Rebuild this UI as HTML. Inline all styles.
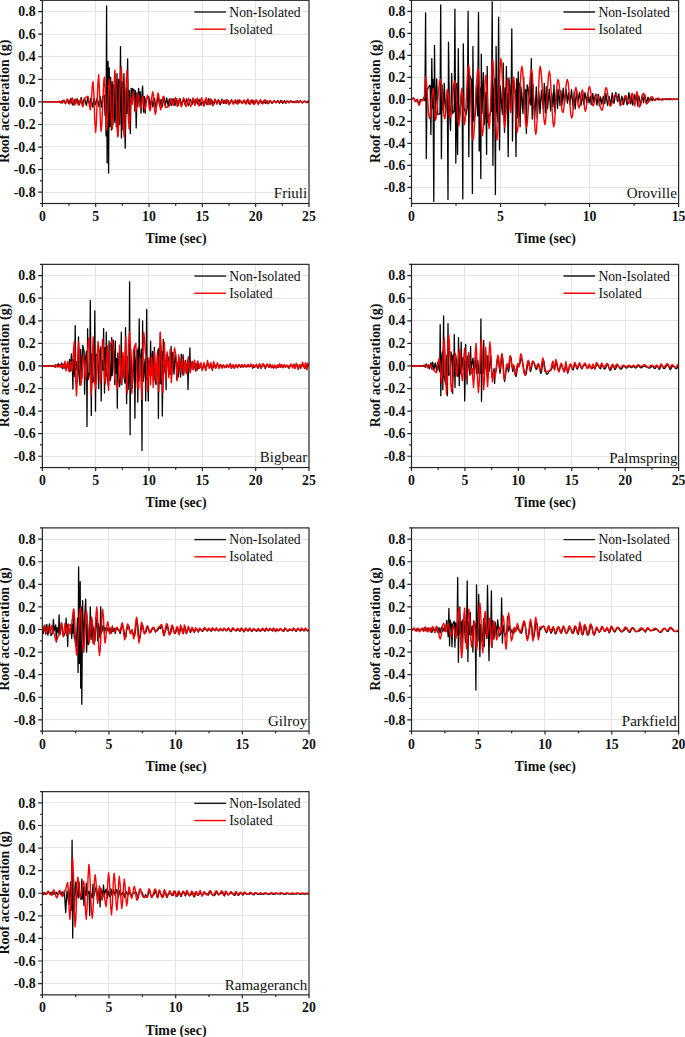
<!DOCTYPE html>
<html>
<head>
<meta charset="utf-8">
<title>Roof acceleration time histories</title>
<style>
html,body{margin:0;padding:0;background:#fff;}
body{width:685px;height:1037px;overflow:hidden;font-family:"Liberation Serif",serif;}
svg{display:block;}
text{font-family:"Liberation Serif",serif;fill:#111;}
.tl text{font-size:13.8px;font-weight:bold;}
.at{font-size:13.9px;font-weight:bold;}
.lg{font-size:13.7px;}
.nm{font-size:15px;}
</style>
</head>
<body>
<svg width="685" height="1037" viewBox="0 0 685 1037">
<rect x="0" y="0" width="685" height="1037" fill="#ffffff"/>

<g>
<path d="M95.5 0.3V203.5M148.5 0.3V203.5M202.5 0.3V203.5M255.5 0.3V203.5M42.35 192.5H309M42.35 169.5H309M42.35 146.5H309M42.35 124.5H309M42.35 101.5H309M42.35 79.5H309M42.35 56.5H309M42.35 34.5H309M42.35 11.5H309" stroke="#e4e4e4" stroke-width="1" fill="none"/>
<clipPath id="c00"><rect x="42.35" y="0.3" width="266.65" height="203.2"/></clipPath>
<path clip-path="url(#c00)" d="M42.4 101.9L43.0 101.9L43.7 101.9L44.4 101.9L45.2 101.9L46.0 101.9L46.6 101.9L47.3 101.9L48.1 101.9L49.0 101.9L49.6 101.9L50.2 101.9L50.8 101.9L51.4 101.9L52.3 101.9L53.2 101.9L53.9 101.9L54.6 101.9L55.3 101.9L56.1 102.0L57.0 102.1L57.6 101.9L58.3 101.6L59.1 102.0L59.9 102.4L60.5 101.8L61.2 101.1L61.8 102.1L62.3 103.0L63.1 101.6L63.9 100.1L64.7 101.9L65.5 103.8L66.3 101.8L67.1 99.7L67.9 101.7L68.7 103.7L69.4 102.4L70.1 99.9L70.7 98.6L71.4 100.2L72.0 103.4L72.7 105.0L73.4 102.3L74.1 99.6L74.8 101.8L75.5 103.9L76.4 101.5L77.3 99.0L78.0 100.5L78.6 103.4L79.3 104.9L80.0 103.0L80.6 99.4L81.3 97.6L82.4 104.6L83.1 103.0L83.8 99.9L84.4 98.3L85.1 100.1L85.8 103.6L86.5 105.4L87.1 101.5L87.7 97.6L88.6 101.4L89.6 105.2L90.2 101.8L90.8 98.3L91.4 100.5L92.1 104.8L92.8 107.0L93.4 102.7L94.0 98.4L94.6 101.6L95.3 104.8L95.9 103.2L96.5 100.1L97.1 98.5L98.0 102.4L98.8 106.3L99.4 101.4L100.1 96.4L100.7 101.8L101.3 107.2L102.0 102.3L102.6 97.4L103.4 96.3L104.2 95.1L105.1 115.4L105.7 90.6L106.0 135.8L106.6 5.9L107.1 162.9L107.5 90.6L108.1 61.3L108.6 173.0L109.2 68.0L109.9 126.7L110.6 77.1L111.4 130.1L112.2 81.6L113.0 124.5L113.8 85.0L114.7 122.2L115.5 79.3L116.3 126.7L117.0 73.7L117.9 135.8L118.7 79.3L119.6 124.5L120.5 46.6L121.4 138.0L122.2 81.6L123.1 130.1L123.9 73.7L124.6 110.9L125.2 148.2L126.3 88.4L126.9 113.2L127.6 59.0L128.5 122.2L129.4 90.6L130.3 133.5L131.2 88.4L131.9 99.6L132.6 88.4L133.2 98.5L133.9 89.5L134.7 110.9L135.5 90.6L136.2 127.9L137.1 92.9L137.8 106.4L138.6 88.4L139.4 101.9L140.2 91.7L141.0 113.2L141.8 96.3L142.6 86.1L143.5 112.1L144.3 96.3L145.2 113.2L146.0 98.5L146.7 98.2L147.4 97.6L148.2 97.0L148.9 96.7L149.4 101.9L150.0 107.1L150.8 102.6L151.5 98.0L152.2 102.4L152.8 106.8L153.7 102.6L154.5 98.4L155.2 103.2L156.0 108.0L156.7 105.2L157.3 99.7L158.0 96.9L158.9 101.7L159.8 106.4L160.4 102.8L161.1 99.3L161.6 103.1L162.2 107.0L163.1 102.0L164.0 96.9L164.6 101.4L165.1 105.8L165.9 101.9L166.7 98.0L167.4 102.1L168.2 106.2L168.7 102.5L169.3 98.8L170.3 102.2L171.2 105.6L172.1 102.1L173.0 98.6L173.6 100.4L174.3 103.9L174.9 105.6L175.6 102.2L176.3 98.7L177.0 100.4L177.7 103.8L178.3 105.5L179.1 102.0L179.8 98.5L180.5 100.1L181.1 103.2L181.8 104.8L182.7 102.1L183.5 99.4L184.4 102.1L185.2 104.8L185.8 101.9L186.4 98.9L187.1 100.5L187.8 103.8L188.5 105.4L189.4 102.4L190.3 99.5L191.2 102.1L192.1 104.7L192.9 101.6L193.6 98.6L194.2 101.8L194.8 105.0L195.4 102.1L196.0 99.1L196.8 101.5L197.6 104.0L198.5 101.6L199.4 99.3L200.2 102.3L201.1 105.3L201.8 102.8L202.4 100.3L203.1 102.5L203.9 104.8L204.5 102.4L205.2 100.0L205.8 101.2L206.5 103.5L207.2 104.7L207.9 101.7L208.7 98.7L209.4 101.7L210.1 104.7L210.8 102.1L211.4 99.6L212.1 100.9L212.7 103.7L213.3 105.1L214.0 103.8L214.6 101.1L215.3 99.7L216.1 101.8L217.0 103.9L217.6 101.8L218.2 99.7L218.9 100.9L219.5 103.4L220.2 104.7L221.1 101.9L222.0 99.1L222.7 101.3L223.3 103.4L224.1 101.8L224.9 100.2L225.6 102.0L226.2 103.7L227.1 101.9L227.9 100.0L228.7 102.1L229.4 104.2L230.1 103.2L230.7 101.2L231.4 100.2L232.0 101.6L232.6 103.0L233.3 102.5L233.9 101.4L234.6 100.8L235.5 102.2L236.4 103.6L237.1 101.8L237.8 99.9L238.4 101.5L238.9 103.0L239.7 102.0L240.5 100.9L241.1 101.5L241.8 102.6L242.4 103.1L243.0 102.0L243.7 100.9L244.5 102.1L245.4 103.3L246.2 101.8L247.1 100.2L247.7 101.1L248.4 103.0L249.0 103.9L249.9 102.3L250.8 100.8L251.6 101.9L252.4 103.0L252.9 101.7L253.5 100.5L254.4 101.7L255.3 103.0L256.0 101.8L256.7 100.7L257.6 102.0L258.5 103.3L259.3 101.8L260.2 100.3L260.9 101.9L261.7 103.5L262.3 102.9L263.0 101.6L263.7 101.0L264.3 101.6L265.0 102.8L265.7 103.4L266.3 102.0L266.9 100.7L267.8 102.1L268.6 103.5L269.4 102.1L270.1 100.6L270.8 101.3L271.4 102.7L272.1 103.4L272.8 102.7L273.4 101.4L274.1 100.8L275.0 101.8L275.9 102.8L276.8 101.6L277.7 100.5L278.5 101.8L279.4 103.2L280.1 101.8L280.7 100.5L281.4 101.2L282.1 102.6L282.8 103.4L283.6 102.0L284.4 100.6L285.1 101.9L285.9 103.3L286.5 102.7L287.2 101.6L287.8 101.0L288.4 101.9L289.0 102.9L289.8 101.8L290.6 100.7L291.4 101.6L292.2 102.5L292.9 102.2L293.5 101.6L294.1 101.3L294.8 101.6L295.4 102.3L296.0 102.6L296.7 101.7L297.5 100.8L298.1 101.7L298.7 102.6L299.5 101.7L300.3 100.8L301.0 101.4L301.6 102.4L302.3 102.9L302.9 102.4L303.6 101.5L304.3 101.0L305.0 101.4L305.6 102.1L306.3 102.5L307.0 101.8L307.6 101.1L308.3 101.3L309.0 101.6" stroke="#050505" stroke-width="1.3" fill="none" stroke-linejoin="round"/>
<path clip-path="url(#c00)" d="M42.4 101.9L43.1 101.9L43.9 101.9L44.7 101.9L45.6 101.9L46.5 101.9L47.2 101.9L47.9 101.9L48.6 101.9L49.4 101.9L50.2 101.9L51.0 101.9L51.8 101.9L52.5 101.9L53.3 101.9L53.9 101.9L54.6 101.9L55.2 101.9L55.8 102.0L56.5 102.1L57.1 102.1L58.1 101.7L59.0 101.2L59.9 102.1L60.8 103.0L61.5 102.4L62.2 101.1L62.9 100.5L63.8 101.2L64.6 102.7L65.5 103.4L66.4 101.2L67.3 98.9L68.1 100.2L68.8 102.7L69.6 104.0L70.2 103.1L70.9 101.0L71.6 98.8L72.3 97.9L72.9 99.7L73.5 103.4L74.1 105.2L74.8 103.6L75.4 100.3L76.1 98.7L76.8 100.2L77.6 103.4L78.4 104.9L79.2 103.5L80.0 100.5L80.8 99.0L81.5 100.9L82.1 104.8L82.8 106.7L83.5 104.5L84.2 100.1L84.9 97.9L85.7 97.6L86.5 97.1L87.2 96.5L88.0 96.3L88.8 99.6L89.6 106.4L90.3 109.8L91.0 105.7L91.7 95.7L92.3 85.7L93.0 81.6L93.9 94.3L94.7 119.7L95.6 132.4L96.3 123.9L97.1 103.6L97.9 83.2L98.7 74.8L99.4 88.9L100.2 117.1L101.0 131.3L101.7 126.1L102.4 112.5L103.1 95.8L103.7 82.2L104.4 77.1L105.2 90.3L106.0 116.9L106.8 130.1L107.6 117.4L108.4 92.0L109.2 79.3L110.0 86.6L110.8 104.2L111.5 121.7L112.3 129.0L113.2 114.3L114.0 85.0L114.9 70.3L115.6 80.0L116.3 103.6L117.0 127.1L117.8 136.9L118.4 130.2L119.1 112.7L119.8 91.1L120.5 73.6L121.2 66.9L121.9 77.2L122.6 101.9L123.3 126.6L124.1 136.9L124.8 127.1L125.5 103.6L126.3 80.0L127.0 70.3L127.7 85.0L128.4 114.3L129.1 129.0L129.8 121.1L130.5 105.3L131.2 97.4L132.2 104.2L133.2 91.7L134.0 96.8L134.8 107.0L135.6 112.1L136.4 107.5L137.2 98.5L138.0 94.0L138.8 97.7L139.7 105.0L140.5 108.7L141.3 105.6L142.0 99.4L142.8 96.3L143.5 99.6L144.2 106.4L145.0 109.8L145.8 106.1L146.6 98.8L147.4 95.1L148.1 97.4L148.7 103.0L149.4 108.6L150.1 110.9L150.7 108.1L151.4 101.3L152.1 94.6L152.7 91.7L153.4 95.0L154.1 103.0L154.7 111.0L155.4 114.3L156.1 111.2L156.7 103.6L157.4 96.0L158.1 92.9L158.7 95.3L159.4 101.3L160.1 107.3L160.7 109.8L161.6 106.4L162.4 99.6L163.2 96.3L164.0 99.1L164.8 104.7L165.5 107.5L166.4 107.4L167.2 107.0L168.1 106.6L168.9 106.5L169.7 104.5L170.4 100.6L171.2 98.6L171.9 100.3L172.5 103.6L173.2 105.3L173.9 103.3L174.7 99.5L175.5 97.6L176.4 102.1L177.3 106.6L178.0 104.6L178.7 100.6L179.3 98.6L180.0 100.7L180.7 104.7L181.4 106.8L182.1 104.5L182.9 100.1L183.6 97.8L184.4 100.0L185.3 104.5L186.1 106.7L186.9 104.6L187.7 100.4L188.5 98.3L189.2 100.4L189.9 104.5L190.7 106.5L191.5 104.4L192.2 100.1L193.0 98.0L193.7 99.8L194.4 103.5L195.0 105.3L195.8 103.5L196.6 99.9L197.4 98.1L198.2 102.0L199.1 106.0L199.9 103.9L200.8 99.7L201.6 97.7L202.4 99.8L203.2 104.2L204.0 106.3L204.8 104.2L205.5 99.9L206.2 97.7L206.9 99.5L207.6 102.9L208.2 104.6L208.9 103.2L209.6 100.2L210.3 98.8L211.1 100.5L211.9 104.0L212.8 105.8L213.5 104.1L214.2 100.6L214.9 98.9L215.8 101.5L216.7 104.1L217.5 103.2L218.3 101.3L219.0 100.4L219.7 101.2L220.3 102.6L221.0 103.4L221.6 102.6L222.3 101.0L222.9 100.2L223.9 101.7L224.8 103.3L225.4 102.3L226.1 100.4L226.7 99.5L227.5 100.8L228.3 103.4L229.1 104.8L229.9 103.5L230.8 100.8L231.6 99.5L232.5 102.0L233.3 104.4L234.0 103.3L234.7 101.0L235.4 99.8L236.2 100.9L236.9 103.1L237.7 104.2L238.3 103.0L239.0 100.8L239.6 99.7L240.4 100.7L241.3 102.7L242.1 103.6L242.8 102.7L243.5 100.8L244.1 99.8L244.8 100.9L245.4 103.1L246.0 104.2L246.6 102.9L247.3 100.3L247.9 99.0L248.6 100.3L249.3 103.1L250.0 104.5L251.0 102.1L251.9 99.6L252.6 100.9L253.4 103.4L254.1 104.6L254.7 103.4L255.4 100.9L256.0 99.7L256.8 100.9L257.6 103.3L258.5 104.5L259.1 103.3L259.7 100.9L260.4 99.7L261.1 100.7L261.9 102.9L262.7 103.9L263.5 102.8L264.2 100.7L265.0 99.6L265.8 100.6L266.7 102.8L267.5 103.8L268.3 103.0L269.1 101.4L269.8 100.6L270.6 101.2L271.4 102.2L272.2 102.7L272.9 102.3L273.6 101.6L274.3 101.2L274.9 101.5L275.6 102.2L276.3 102.5L276.9 102.2L277.5 101.4L278.2 101.1L278.8 101.4L279.4 102.1L280.1 102.5L280.9 102.2L281.7 101.5L282.5 101.2L283.3 101.6L284.1 102.4L285.0 102.7L285.7 102.3L286.3 101.4L287.0 100.9L287.8 101.4L288.7 102.2L289.5 102.6L290.4 101.8L291.3 101.0L292.1 101.5L292.9 102.3L293.7 102.7L294.5 102.3L295.3 101.5L296.1 101.2L296.8 101.5L297.6 102.2L298.3 102.6L299.0 102.2L299.7 101.5L300.4 101.2L301.1 101.5L301.7 102.3L302.4 102.6L303.2 102.3L304.0 101.6L304.8 101.3L305.4 101.6L306.1 102.2L306.7 102.6L307.5 102.5L308.2 102.2L309.0 102.1" stroke="#fa0000" stroke-width="1.4" fill="none" stroke-linejoin="round"/>
<rect x="42.35" y="0.3" width="266.65" height="203.2" fill="none" stroke="#262626" stroke-width="1.2"/>
<path d="M42.35 192.21h-4.2M42.35 169.63h-4.2M42.35 147.06h-4.2M42.35 124.48h-4.2M42.35 101.9h-4.2M42.35 79.32h-4.2M42.35 56.74h-4.2M42.35 34.17h-4.2M42.35 11.59h-4.2M42.35 203.5h-2.4M42.35 180.92h-2.4M42.35 158.34h-2.4M42.35 135.77h-2.4M42.35 113.19h-2.4M42.35 90.61h-2.4M42.35 68.03h-2.4M42.35 45.46h-2.4M42.35 22.88h-2.4M42.35 0.3h-2.4M42.35 203.5v3.5M95.68 203.5v3.5M149.01 203.5v3.5M202.34 203.5v3.5M255.67 203.5v3.5M309 203.5v3.5M69.02 203.5v2.2M122.34 203.5v2.2M175.67 203.5v2.2M229 203.5v2.2M282.33 203.5v2.2" stroke="#262626" stroke-width="1.2" fill="none"/>
<g class="tl" text-anchor="end">
<text x="35.55" y="16.29">0.8</text>
<text x="35.55" y="38.87">0.6</text>
<text x="35.55" y="61.44">0.4</text>
<text x="35.55" y="84.02">0.2</text>
<text x="35.55" y="106.6">0.0</text>
<text x="35.55" y="129.18">-0.2</text>
<text x="35.55" y="151.76">-0.4</text>
<text x="35.55" y="174.33">-0.6</text>
<text x="35.55" y="196.91">-0.8</text>
</g>
<g class="tl" text-anchor="middle">
<text x="42.35" y="221.1">0</text>
<text x="95.68" y="221.1">5</text>
<text x="149.01" y="221.1">10</text>
<text x="202.34" y="221.1">15</text>
<text x="255.67" y="221.1">20</text>
<text x="309" y="221.1">25</text>
</g>
<text class="at" text-anchor="middle" x="175.98" y="243.3">Time (sec)</text>
<text class="at" text-anchor="middle" transform="translate(8.95 101.4) rotate(-90)">Roof acceleration (g)</text>
<path d="M194.35 12h31.6" stroke="#1a1a1a" stroke-width="1.4"/>
<path d="M194.35 29.2h31.6" stroke="#fa0000" stroke-width="1.4"/>
<text class="lg" x="229.25" y="16.7">Non-Isolated</text>
<text class="lg" x="229.25" y="33.7">Isolated</text>
<text class="nm" text-anchor="end" x="307.2" y="198.2">Friuli</text>
</g>
<g>
<path d="M500.5 0.3V203.5M589.5 0.3V203.5M411.5 187.5H678.6M411.5 165.5H678.6M411.5 143.5H678.6M411.5 121.5H678.6M411.5 99.5H678.6M411.5 77.5H678.6M411.5 55.5H678.6M411.5 33.5H678.6M411.5 11.5H678.6" stroke="#e4e4e4" stroke-width="1" fill="none"/>
<clipPath id="c10"><rect x="411.5" y="0.3" width="267.1" height="203.2"/></clipPath>
<path clip-path="url(#c10)" d="M411.5 99.3L412.4 98.7L413.3 98.0L414.0 98.9L414.7 100.6L415.4 101.5L416.3 100.4L417.2 99.3L417.9 101.8L418.6 104.3L419.3 103.0L420.0 100.6L420.8 99.3L421.5 99.9L422.2 100.4L422.9 99.6L423.6 97.9L424.3 97.1L424.9 100.6L425.6 12.8L426.3 158.7L427.0 89.1L427.8 88.6L428.6 87.3L429.4 85.9L430.2 85.4L430.9 134.5L431.8 58.6L432.5 108.2L433.0 79.4L433.8 201.6L434.5 45.4L435.2 119.6L435.9 99.2L436.7 78.8L437.2 96.6L437.8 114.4L438.5 114.3L439.3 114.0L440.0 113.9L440.7 5.0L441.4 158.7L442.1 84.9L442.7 97.5L443.3 110.1L444.3 83.3L444.9 98.0L445.5 112.7L446.4 101.4L447.3 90.0L448.0 199.4L448.5 42.1L449.3 104.2L449.9 117.2L450.5 130.3L451.1 101.9L451.7 73.5L452.6 113.6L453.4 112.4L454.2 111.2L454.9 9.1L455.8 163.1L456.6 83.3L456.9 93.2L457.6 154.3L458.3 48.7L459.0 119.3L459.8 115.0L460.6 104.7L461.3 94.4L462.1 90.1L462.8 198.9L463.3 43.8L464.0 108.6L464.7 110.1L465.4 113.1L466.1 114.6L466.8 109.8L467.4 104.9L468.1 11.3L468.8 156.5L469.5 75.4L470.3 76.7L471.0 79.1L471.7 80.4L472.4 193.4L472.9 46.5L473.6 120.9L474.5 117.3L475.4 113.8L476.4 85.6L477.1 100.8L477.7 115.9L478.5 12.4L479.2 151.0L479.9 93.9L480.1 88.2L480.8 178.5L481.3 54.2L482.0 113.6L482.7 93.2L483.4 72.7L484.4 124.8L485.2 108.5L485.9 92.3L486.6 154.3L487.2 66.3L487.9 122.3L488.6 118.9L489.2 115.5L490.0 114.4L490.7 112.2L491.5 111.2L492.2 2.0L492.9 165.3L493.6 91.6L494.7 78.9L495.4 194.5L496.1 46.5L496.8 106.5L497.9 121.9L498.6 17.1L499.5 149.9L500.2 85.9L500.9 93.1L501.7 107.5L502.5 114.7L503.2 63.0L503.8 97.7L504.5 132.3L505.2 88.0L505.7 113.4L506.4 66.3L507.1 107.7L507.5 93.8L508.2 156.5L508.9 78.0L509.6 85.5L510.3 100.7L511.0 108.2L511.8 28.9L512.5 141.1L513.2 80.6L513.9 83.4L514.6 88.8L515.3 91.5L516.0 156.5L516.7 78.7L517.6 117.8L518.3 71.8L519.1 115.6L519.4 83.5L520.1 126.8L520.8 86.4L521.5 93.1L522.3 106.7L523.0 113.4L523.7 77.3L524.4 104.7L525.0 97.1L525.6 89.5L526.4 133.4L527.1 84.8L527.8 86.7L528.5 91.8L529.2 98.0L529.9 103.1L530.6 105.0L531.3 58.6L532.2 119.1L532.9 84.7L533.8 101.7L534.7 118.7L535.5 102.8L536.3 87.0L537.2 118.2L538.0 104.5L538.8 90.8L539.4 102.1L540.0 113.4L540.7 101.9L541.5 90.4L542.3 99.6L543.2 108.8L544.3 83.5L545.3 112.9L546.4 87.0L547.0 97.9L547.5 108.8L548.4 99.0L549.3 89.1L549.9 100.0L550.6 110.9L551.2 101.9L551.7 92.8L552.3 99.8L553.0 106.8L554.0 84.9L554.9 111.9L555.8 100.1L556.7 88.2L557.6 108.3L558.5 89.6L559.3 97.5L560.0 105.4L560.9 90.7L561.9 105.7L562.5 96.9L563.2 88.2L563.8 96.1L564.4 104.0L565.2 96.6L566.0 89.1L566.7 96.1L567.4 103.1L568.5 92.7L569.2 98.6L569.9 104.4L570.7 97.0L571.5 89.7L572.4 99.4L573.3 109.0L574.2 91.9L575.2 108.9L575.9 99.9L576.7 90.9L577.8 102.7L578.6 97.5L579.5 92.3L580.2 98.8L580.9 105.3L581.8 99.8L582.6 94.3L583.2 99.3L583.7 104.3L584.3 98.5L584.9 92.7L585.8 97.5L586.7 102.3L587.6 93.7L588.4 98.3L589.1 102.9L589.7 99.7L590.3 96.5L591.2 104.6L592.0 98.9L592.8 93.3L593.8 102.2L594.7 98.2L595.6 94.1L596.2 99.7L596.9 105.2L597.7 99.8L598.5 94.4L599.4 105.8L600.5 96.9L601.2 100.5L601.8 104.1L602.5 100.2L603.3 96.4L604.1 100.0L604.8 103.7L605.9 93.3L606.7 99.4L607.6 105.5L608.4 100.9L609.1 96.3L610.0 101.0L610.8 105.7L611.5 99.3L612.2 92.8L613.1 98.1L614.0 103.4L614.9 97.9L615.8 92.4L616.7 97.0L617.5 101.6L618.1 97.7L618.8 93.9L619.5 99.7L620.2 105.5L621.0 100.8L621.8 96.2L622.7 100.4L623.6 104.5L624.5 100.2L625.3 95.8L626.0 98.1L626.6 102.6L627.2 104.8L628.1 98.8L628.9 92.7L629.8 98.3L630.7 103.9L631.6 94.5L632.7 105.0L633.6 99.8L634.4 94.6L635.5 102.0L636.1 97.6L636.8 93.2L637.7 106.0L638.8 96.0L639.7 100.4L640.7 104.8L641.5 99.6L642.4 94.4L643.5 102.6L644.1 98.6L644.8 94.6L645.6 99.2L646.5 103.9L647.2 100.5L648.0 97.1L648.7 99.3L649.4 101.4L650.1 99.7L650.8 97.9L651.5 99.2L652.2 100.6L653.2 98.1L653.9 99.2L654.6 100.2L655.5 99.4L656.3 98.5L656.9 98.8L657.6 99.5L658.2 99.9L658.8 99.4L659.5 99.0L660.3 99.5L661.1 99.9L661.8 99.2L662.6 98.5L663.7 99.7L664.5 99.2L665.3 98.7L666.0 99.1L666.7 99.6L667.4 99.1L668.0 98.7L668.7 99.2L669.4 99.7L670.1 99.3L670.7 98.9L671.5 99.3L672.3 99.7L673.1 99.3L674.0 98.9L674.7 99.2L675.3 99.5L676.2 99.3L677.0 99.0L677.8 99.1L678.6 99.2" stroke="#050505" stroke-width="1.3" fill="none" stroke-linejoin="round"/>
<path clip-path="url(#c10)" d="M411.5 99.3L412.2 99.0L412.9 98.5L413.6 98.2L414.4 99.0L415.2 100.7L416.0 101.5L416.7 100.7L417.4 99.9L418.2 102.6L419.0 105.4L419.8 104.0L420.5 101.2L421.3 99.9L421.9 100.4L422.5 101.0L423.4 99.6L424.3 98.2L424.9 87.8L425.6 77.3L426.4 81.3L427.1 91.6L427.9 104.3L428.7 114.6L429.5 118.6L430.3 115.7L431.1 108.1L431.8 98.8L432.6 91.2L433.4 88.3L434.1 96.3L434.7 112.2L435.4 120.2L436.1 118.2L436.8 112.6L437.5 104.4L438.2 95.3L438.9 87.2L439.6 81.5L440.3 79.5L441.1 82.1L441.8 89.3L442.6 99.0L443.3 108.8L444.1 116.0L444.8 118.6L445.5 114.3L446.2 104.0L446.9 93.7L447.6 89.4L448.5 96.6L449.3 110.9L450.1 118.0L450.9 115.5L451.7 108.7L452.5 99.3L453.3 90.0L454.1 83.1L454.9 80.6L455.7 84.9L456.5 96.2L457.3 110.1L458.1 121.4L458.9 125.7L459.6 120.2L460.4 107.0L461.1 93.8L461.9 88.3L462.7 97.4L463.6 115.5L464.4 124.6L465.1 120.6L465.8 109.8L466.5 94.9L467.2 80.1L467.9 69.2L468.7 65.2L469.4 70.2L470.1 83.9L470.8 102.6L471.5 121.3L472.2 135.0L472.9 140.0L473.7 136.5L474.4 126.6L475.1 112.2L475.9 96.3L476.6 82.0L477.4 72.1L478.1 68.5L478.8 73.0L479.5 85.3L480.2 102.1L480.9 118.8L481.7 131.1L482.4 135.6L483.1 129.8L483.8 114.7L484.5 96.0L485.2 80.9L485.9 75.1L486.7 82.9L487.5 101.8L488.3 120.7L489.1 128.5L489.8 121.9L490.6 104.7L491.3 83.5L492.0 66.3L492.7 59.7L493.4 65.1L494.1 79.8L494.8 99.9L495.5 119.9L496.3 134.6L497.0 140.0L497.8 132.2L498.5 111.9L499.3 86.7L500.1 66.4L500.9 58.6L501.7 65.2L502.5 82.4L503.2 103.7L504.0 120.9L504.8 127.5L505.6 120.3L506.3 102.9L507.1 85.6L507.8 78.4L508.5 83.4L509.3 95.5L510.0 107.5L510.7 112.5L511.4 107.4L512.2 94.9L513.0 82.5L513.7 77.3L514.4 82.6L515.1 96.3L515.7 113.3L516.4 127.1L517.1 132.3L517.9 127.9L518.7 115.8L519.5 99.3L520.3 82.8L521.1 70.7L521.9 66.3L522.6 70.4L523.4 81.6L524.1 96.9L524.9 112.2L525.6 123.4L526.4 127.5L527.1 124.6L527.8 116.5L528.6 104.8L529.3 91.8L530.0 80.1L530.8 72.0L531.5 69.1L532.2 73.4L532.9 85.4L533.7 101.8L534.4 118.2L535.1 130.1L535.8 134.5L536.5 130.0L537.3 117.5L538.0 100.4L538.8 83.4L539.5 70.9L540.2 66.3L541.0 70.2L541.8 80.9L542.6 95.5L543.3 110.0L544.1 120.7L544.9 124.6L545.6 121.0L546.4 111.3L547.1 97.9L547.8 84.6L548.6 74.8L549.3 71.3L550.1 75.0L550.8 85.2L551.5 99.0L552.3 112.9L553.0 123.1L553.8 126.8L554.6 122.3L555.4 110.5L556.2 95.9L557.1 84.0L557.9 79.5L558.6 81.1L559.3 85.7L560.0 92.3L560.7 99.7L561.4 106.3L562.1 110.9L562.9 112.5L563.6 110.3L564.3 104.3L565.1 96.0L565.8 87.8L566.6 81.7L567.3 79.5L568.1 82.1L568.8 89.1L569.5 98.8L570.3 108.4L571.0 115.4L571.8 118.0L572.6 115.1L573.4 107.5L574.2 98.1L575.0 90.5L575.9 87.5L576.6 90.6L577.4 97.8L578.1 105.1L578.9 108.1L579.6 106.4L580.3 101.8L581.0 96.2L581.7 91.6L582.4 89.9L583.2 93.0L583.9 100.6L584.6 108.3L585.3 111.4L586.1 109.0L586.9 102.8L587.8 95.1L588.6 88.8L589.4 86.4L590.1 88.3L590.9 93.2L591.6 99.2L592.4 104.1L593.1 105.9L593.8 104.8L594.6 101.9L595.3 98.4L596.0 95.5L596.7 94.4L597.5 95.2L598.2 97.4L599.0 100.6L599.7 104.1L600.5 107.3L601.3 109.5L602.0 110.3L602.9 108.1L603.7 102.4L604.5 95.4L605.3 89.7L606.1 87.5L606.9 89.3L607.7 93.9L608.5 99.6L609.3 104.2L610.0 105.9L610.8 105.5L611.5 104.2L612.2 102.4L612.9 100.1L613.6 97.9L614.3 96.1L615.0 94.8L615.7 94.4L616.5 94.9L617.3 96.3L618.1 98.4L618.9 100.8L619.7 102.8L620.5 104.3L621.3 104.8L622.0 104.2L622.7 102.5L623.5 100.1L624.2 97.8L625.0 96.1L625.7 95.5L626.5 96.6L627.2 99.4L628.0 102.2L628.7 103.4L629.5 102.4L630.2 99.9L630.9 96.8L631.6 94.2L632.3 93.3L633.1 96.4L634.0 102.8L634.8 105.9L635.5 102.3L636.2 95.2L636.9 91.6L637.8 95.5L638.6 103.2L639.4 107.0L640.1 106.1L640.8 103.6L641.6 100.1L642.3 96.7L643.0 94.2L643.7 93.3L644.4 94.8L645.1 98.5L645.8 102.2L646.5 103.7L647.3 103.4L648.1 102.4L648.8 100.9L649.6 99.3L650.4 97.9L651.1 96.9L651.9 96.6L652.6 97.2L653.2 98.6L653.9 100.0L654.6 100.6L655.3 100.4L656.0 99.8L656.7 99.1L657.4 98.4L658.1 98.2L658.8 98.4L659.5 98.8L660.3 99.4L661.0 99.8L661.7 100.0L662.4 99.9L663.2 99.7L663.9 99.4L664.7 99.1L665.4 98.8L666.1 98.8L667.0 98.8L667.8 98.8L668.6 98.9L669.4 98.9L670.3 99.0L671.1 99.1L671.9 99.1L672.8 99.2L673.6 99.2L674.4 99.2L675.1 99.2L675.8 99.3L676.5 99.3L677.2 99.4L677.9 99.4L678.6 99.5L678.6 99.4" stroke="#fa0000" stroke-width="1.4" fill="none" stroke-linejoin="round"/>
<rect x="411.5" y="0.3" width="267.1" height="203.2" fill="none" stroke="#262626" stroke-width="1.2"/>
<path d="M411.5 187.33h-4.2M411.5 165.32h-4.2M411.5 143.32h-4.2M411.5 121.32h-4.2M411.5 99.31h-4.2M411.5 77.31h-4.2M411.5 55.31h-4.2M411.5 33.3h-4.2M411.5 11.3h-4.2M411.5 198.33h-2.4M411.5 176.33h-2.4M411.5 154.32h-2.4M411.5 132.32h-2.4M411.5 110.32h-2.4M411.5 88.31h-2.4M411.5 66.31h-2.4M411.5 44.31h-2.4M411.5 22.3h-2.4M411.5 0.3h-2.4M411.5 203.5v3.5M500.53 203.5v3.5M589.57 203.5v3.5M678.6 203.5v3.5M456.02 203.5v2.2M545.05 203.5v2.2M634.08 203.5v2.2" stroke="#262626" stroke-width="1.2" fill="none"/>
<g class="tl" text-anchor="end">
<text x="405.5" y="16">0.8</text>
<text x="405.5" y="38">0.6</text>
<text x="405.5" y="60.01">0.4</text>
<text x="405.5" y="82.01">0.2</text>
<text x="405.5" y="104.01">0.0</text>
<text x="405.5" y="126.02">-0.2</text>
<text x="405.5" y="148.02">-0.4</text>
<text x="405.5" y="170.02">-0.6</text>
<text x="405.5" y="192.03">-0.8</text>
</g>
<g class="tl" text-anchor="middle">
<text x="411.5" y="221.1">0</text>
<text x="500.53" y="221.1">5</text>
<text x="589.57" y="221.1">10</text>
<text x="678.6" y="221.1">15</text>
</g>
<text class="at" text-anchor="middle" x="545.35" y="243.3">Time (sec)</text>
<text class="at" text-anchor="middle" transform="translate(380 101.4) rotate(-90)">Roof acceleration (g)</text>
<path d="M563.5 12h31.6" stroke="#1a1a1a" stroke-width="1.4"/>
<path d="M563.5 29.2h31.6" stroke="#fa0000" stroke-width="1.4"/>
<text class="lg" x="598.4" y="16.7">Non-Isolated</text>
<text class="lg" x="598.4" y="33.7">Isolated</text>
<text class="nm" text-anchor="end" x="676.8" y="198.2">Oroville</text>
</g>
<g>
<path d="M95.5 264.35V467.55M148.5 264.35V467.55M202.5 264.35V467.55M255.5 264.35V467.55M42.35 456.5H309M42.35 433.5H309M42.35 410.5H309M42.35 388.5H309M42.35 365.5H309M42.35 343.5H309M42.35 320.5H309M42.35 298.5H309M42.35 275.5H309" stroke="#e4e4e4" stroke-width="1" fill="none"/>
<clipPath id="c01"><rect x="42.35" y="264.35" width="266.65" height="203.2"/></clipPath>
<path clip-path="url(#c01)" d="M42.4 366.0L43.0 366.0L43.7 366.0L44.7 366.0L45.7 366.0L46.7 366.0L47.5 366.0L48.2 366.0L49.1 366.0L49.7 366.0L50.4 366.0L51.4 366.1L52.2 365.7L53.3 366.5L54.0 365.6L54.8 366.9L55.3 365.7L55.9 364.5L56.5 365.7L57.1 366.9L57.7 365.3L58.3 363.7L59.2 366.9L60.1 364.4L60.9 367.1L61.7 362.9L62.4 368.6L63.2 364.1L63.8 366.2L64.4 368.2L65.2 363.1L65.8 366.2L66.4 369.3L67.0 366.0L67.6 362.8L68.7 370.5L69.6 359.5L70.6 370.9L71.4 353.9L72.3 362.2L72.9 389.1L73.4 359.3L74.0 367.9L74.7 376.5L75.2 325.6L75.7 370.3L76.4 365.9L77.0 361.6L77.5 381.8L78.5 336.9L79.0 372.0L80.0 385.3L80.7 349.3L81.4 363.6L82.0 377.9L82.8 345.3L83.4 348.2L84.1 351.1L84.6 394.2L85.1 360.1L85.8 355.6L86.5 351.1L87.0 426.5L87.6 328.7L88.1 379.6L89.0 375.7L89.8 371.8L90.3 300.5L91.3 415.6L91.8 354.1L92.8 382.5L93.6 379.5L94.3 376.5L94.8 311.0L95.5 411.1L96.0 355.9L96.8 354.6L97.6 353.3L98.7 388.7L99.7 351.8L100.7 347.0L101.2 400.9L101.8 360.7L102.4 365.4L103.0 370.1L103.6 328.7L104.5 393.0L105.1 347.7L105.8 376.0L106.3 332.1L106.9 372.8L107.7 379.8L108.4 386.7L109.1 341.0L109.7 360.7L110.3 380.4L111.1 374.9L111.7 337.7L112.2 375.5L113.3 340.1L114.1 362.4L114.8 384.7L115.3 341.1L115.8 373.1L116.8 358.7L117.3 408.2L117.9 352.9L118.7 369.8L119.5 386.7L120.1 382.6L120.7 378.4L121.3 332.1L121.8 384.8L122.8 355.3L123.4 365.7L124.0 376.1L125.0 383.1L125.5 327.6L126.6 403.7L127.1 356.4L128.1 389.5L129.1 373.1L129.6 281.8L130.1 434.8L130.7 348.7L131.5 368.3L132.3 387.9L133.0 377.5L133.7 356.6L134.4 346.2L134.9 418.3L135.5 361.5L136.4 355.8L137.3 350.2L137.8 402.1L138.3 348.0L138.7 380.4L139.2 318.9L139.7 373.5L140.6 361.3L141.4 349.1L142.0 450.4L142.6 320.8L143.1 381.7L143.8 376.0L144.5 364.5L145.2 358.8L145.7 400.9L146.7 309.5L147.2 380.4L147.7 358.3L148.3 400.9L148.8 361.2L149.4 368.3L150.1 375.3L150.6 341.1L151.1 375.3L151.8 363.4L152.5 351.5L153.1 363.7L153.8 375.9L154.3 347.3L154.9 379.7L155.5 382.2L156.1 384.7L157.0 367.4L157.9 350.0L158.4 418.3L158.9 348.2L159.8 383.5L160.3 332.5L160.8 383.8L161.8 351.4L162.3 416.0L163.3 339.4L163.8 373.6L164.7 367.1L165.5 360.5L166.1 389.7L166.6 354.7L167.3 355.4L167.9 356.9L168.6 357.6L169.6 374.2L170.6 373.7L171.1 346.3L171.6 374.9L172.2 363.6L172.8 352.3L173.4 363.2L174.0 374.1L175.1 354.9L175.6 359.0L176.2 363.1L176.7 379.5L177.3 362.3L178.3 377.0L179.4 358.4L180.0 367.7L180.6 377.0L181.3 354.1L182.0 364.3L182.6 374.6L183.1 354.7L183.7 372.2L184.5 366.3L185.4 360.5L186.1 373.1L186.8 366.6L187.5 360.0L188.0 389.7L188.6 363.8L189.3 369.1L189.9 347.9L190.4 371.5L191.3 366.5L192.2 361.4L192.9 365.2L193.5 369.0L194.4 361.0L195.5 370.8L196.4 363.6L197.0 367.2L197.5 369.8L198.3 362.6L199.0 368.4L199.7 367.0L200.3 364.1L201.1 367.3L202.4 368.2L203.0 368.1L203.7 367.3L204.3 364.6L205.2 366.7L206.0 369.3L206.9 365.9L207.8 364.5L208.7 363.8L209.6 367.9L210.4 366.4L211.2 364.0L212.0 369.0L212.7 367.7L213.3 367.4L213.9 364.8L214.5 364.0L215.2 366.7L215.9 368.2L216.5 365.5L217.2 364.8L217.8 365.5L218.5 365.5L219.3 367.6L220.4 364.7L221.1 365.0L221.7 367.3L222.4 367.9L223.0 366.2L223.6 365.1L224.4 367.1L225.1 367.1L225.8 366.8L226.5 367.1L227.2 365.0L228.0 366.5L228.9 366.7L229.7 365.8L230.5 365.1L231.1 365.1L231.6 367.8L232.5 366.5L233.4 365.1L234.0 367.0L234.6 368.1L235.2 366.4L235.8 365.3L236.5 365.6L237.1 366.5L237.6 366.2L238.5 366.6L239.4 365.6L240.1 365.6L240.8 367.4L241.4 366.1L242.0 364.7L242.9 367.0L243.8 365.9L244.4 366.1L245.0 366.0L245.6 366.3L246.3 366.6L247.2 366.8L248.1 364.6L248.9 366.6L249.7 366.3L250.5 366.3L251.2 364.6L252.0 365.9L252.7 368.3L253.8 365.5L254.5 367.3L255.2 366.2L256.0 366.2L256.7 365.6L257.8 367.4L258.4 368.1L259.1 365.6L259.8 364.2L260.5 367.0L261.3 368.3L262.0 366.3L262.6 365.8L263.3 364.8L264.0 364.7L264.7 367.0L265.4 368.6L266.0 366.7L266.7 365.3L267.4 365.5L268.1 365.6L268.7 366.8L269.5 367.1L270.3 364.8L270.9 365.9L271.6 367.8L272.7 365.6L273.3 367.6L273.9 367.7L275.0 365.6L275.7 366.9L276.5 366.8L277.1 367.6L277.7 365.2L278.8 367.4L279.8 364.2L280.8 367.3L281.9 365.0L283.0 367.8L283.6 365.8L284.2 365.1L285.1 366.5L285.9 366.0L286.6 366.2L287.2 366.6L287.8 366.1L288.5 366.1L289.1 368.3L289.8 366.2L290.5 365.8L291.1 365.5L291.9 365.1L292.6 367.9L293.2 366.1L293.8 364.1L294.6 366.8L295.3 367.9L295.9 365.5L296.5 366.0L297.4 365.0L298.3 369.4L299.1 366.5L300.0 365.1L300.6 367.1L301.1 367.3L302.0 366.2L302.8 364.1L303.7 365.4L304.7 368.5L305.2 366.0L305.8 363.7L306.8 369.6L307.9 364.1L308.6 365.9L309.3 366.0" stroke="#050505" stroke-width="1.3" fill="none" stroke-linejoin="round"/>
<path clip-path="url(#c01)" d="M42.4 366.0L43.0 366.0L43.6 366.0L44.3 366.0L45.0 366.0L46.1 366.0L47.0 366.0L47.9 366.0L48.5 366.0L49.1 366.0L49.7 366.0L50.4 365.9L51.0 365.9L51.9 366.1L52.7 366.2L53.7 365.2L54.6 366.2L55.5 367.2L56.1 366.6L56.7 365.6L57.4 365.0L58.4 366.9L59.0 366.4L59.7 365.2L60.3 364.6L61.4 367.2L62.4 364.5L63.0 366.2L63.7 368.0L64.3 364.6L64.9 361.1L66.0 370.8L66.9 366.1L67.7 361.5L68.5 366.7L69.2 371.9L70.0 366.8L70.8 361.6L71.4 366.3L72.0 371.0L72.8 363.6L73.6 348.8L74.3 341.5L75.1 355.1L75.8 382.3L76.5 395.9L77.2 382.5L77.9 355.6L78.6 342.2L79.4 353.0L80.2 374.4L81.0 385.1L81.8 377.5L82.6 362.3L83.4 354.7L84.1 360.9L84.8 373.3L85.5 379.5L86.2 375.5L86.9 365.1L87.6 352.2L88.3 341.7L89.0 337.7L89.7 352.0L90.5 380.7L91.3 395.0L91.9 380.5L92.6 351.4L93.2 336.9L93.8 359.1L94.4 381.3L95.1 384.9L95.7 388.5L96.5 376.8L97.3 353.2L98.1 341.5L98.9 351.8L99.7 372.5L100.5 382.9L101.2 372.0L101.9 350.3L102.6 339.4L103.3 346.0L103.9 361.7L104.6 377.5L105.3 384.0L106.0 374.4L106.8 355.2L107.5 345.6L108.5 390.4L109.2 378.8L109.8 355.4L110.5 343.7L111.1 342.9L111.8 341.2L112.4 340.4L113.3 350.2L114.2 369.7L115.0 379.4L115.8 381.7L116.6 386.2L117.3 388.5L118.0 382.5L118.7 376.5L119.6 345.1L120.5 364.4L121.3 383.8L122.2 368.1L123.0 352.5L124.1 378.5L124.9 357.7L125.8 336.9L126.5 365.2L127.1 393.4L127.8 369.1L128.5 344.8L129.6 332.1L130.4 347.4L131.2 378.1L131.9 393.4L132.7 372.0L133.5 350.7L134.3 348.8L135.1 345.2L135.9 343.4L136.6 365.4L137.3 387.4L138.0 387.9L138.7 388.4L139.4 372.7L140.1 357.1L140.9 378.2L141.8 399.4L142.4 382.5L143.0 348.9L143.7 332.1L144.4 337.9L145.1 349.5L145.9 355.3L146.7 373.4L147.6 391.5L148.4 374.6L149.1 357.7L149.8 371.3L150.5 384.9L151.7 356.8L152.5 372.1L153.3 387.4L154.0 369.2L154.6 351.1L155.4 366.3L156.2 381.5L157.3 354.0L158.1 372.7L158.8 391.5L159.6 362.0L160.3 332.5L161.2 347.5L162.0 377.5L162.9 392.5L163.6 367.4L164.3 342.2L165.2 361.6L166.1 380.9L167.2 351.9L168.0 364.8L168.9 377.8L169.5 363.7L170.1 349.6L170.7 366.1L171.3 382.6L172.1 371.4L173.0 360.2L173.8 354.0L174.6 347.9L175.3 352.0L176.1 356.2L177.1 380.9L178.0 367.8L178.8 354.8L179.6 363.3L180.3 371.8L181.0 368.4L181.6 361.6L182.3 358.2L183.0 366.7L183.7 375.2L184.4 368.1L185.1 361.0L186.1 367.4L187.0 373.8L187.6 365.2L188.3 356.6L189.2 364.7L190.1 372.8L191.0 367.4L192.0 362.0L193.0 369.8L193.8 365.0L194.6 360.2L195.4 365.6L196.3 370.9L197.1 365.9L197.9 360.9L198.7 364.6L199.4 368.3L200.2 365.4L201.0 362.6L202.1 370.6L202.7 368.6L203.4 364.6L204.0 362.7L204.9 366.6L205.7 370.6L206.6 365.5L207.5 360.4L208.4 364.4L209.2 368.3L210.1 365.5L210.9 362.6L211.6 366.5L212.4 370.5L213.0 366.1L213.6 361.6L214.2 363.2L214.9 366.5L215.6 368.1L216.2 366.7L216.9 364.0L217.5 362.7L218.2 365.6L218.9 368.5L220.0 364.7L220.7 365.5L221.4 367.2L222.1 368.0L222.7 366.4L223.3 364.8L224.1 366.3L224.8 367.8L225.5 367.1L226.2 365.5L226.9 364.7L227.7 366.2L228.6 367.6L229.4 365.5L230.2 363.4L230.7 365.9L231.3 368.3L232.2 366.4L233.1 364.6L233.7 366.4L234.2 368.2L234.9 367.2L235.5 365.4L236.2 364.4L236.7 366.1L237.3 367.8L238.2 366.1L239.1 364.4L239.8 365.7L240.5 367.0L241.1 365.8L241.7 364.7L242.6 365.9L243.5 367.1L244.1 365.7L244.7 364.3L245.3 365.8L245.9 367.3L246.8 366.0L247.7 364.7L248.6 365.8L249.4 367.0L250.1 365.4L250.9 363.9L251.7 365.5L252.4 367.2L253.5 364.6L254.2 365.8L254.9 367.0L255.6 365.6L256.4 364.2L257.4 367.9L258.1 366.9L258.8 364.9L259.5 363.9L260.2 366.1L261.0 368.2L261.6 367.0L262.3 364.7L263.0 363.5L263.7 364.7L264.4 366.9L265.0 368.1L265.7 367.0L266.4 364.9L267.1 363.8L267.7 365.4L268.4 367.0L269.2 365.5L270.0 364.0L270.6 365.7L271.2 367.4L272.3 365.0L273.0 366.6L273.6 368.2L274.7 364.9L275.4 366.6L276.1 368.3L276.8 366.7L277.4 365.0L278.4 367.3L279.4 364.0L280.5 367.1L281.6 364.7L282.7 367.1L283.3 365.9L283.9 364.7L284.8 366.1L285.6 367.4L286.2 366.2L286.8 365.1L287.5 365.8L288.1 367.4L288.8 368.1L289.5 367.1L290.1 365.0L290.8 364.0L291.6 365.7L292.3 367.3L292.9 365.8L293.5 364.4L294.2 366.5L295.0 368.7L295.6 366.0L296.2 363.3L297.1 366.1L298.0 368.9L298.8 366.7L299.7 364.5L300.2 366.5L300.8 368.6L301.6 365.4L302.5 362.2L303.4 365.0L304.3 367.8L304.9 365.3L305.5 362.7L306.5 369.6L307.6 363.1L308.3 364.1L309.0 365.1" stroke="#fa0000" stroke-width="1.4" fill="none" stroke-linejoin="round"/>
<rect x="42.35" y="264.35" width="266.65" height="203.2" fill="none" stroke="#262626" stroke-width="1.2"/>
<path d="M42.35 456.26h-4.2M42.35 433.68h-4.2M42.35 411.11h-4.2M42.35 388.53h-4.2M42.35 365.95h-4.2M42.35 343.37h-4.2M42.35 320.79h-4.2M42.35 298.22h-4.2M42.35 275.64h-4.2M42.35 467.55h-2.4M42.35 444.97h-2.4M42.35 422.39h-2.4M42.35 399.82h-2.4M42.35 377.24h-2.4M42.35 354.66h-2.4M42.35 332.08h-2.4M42.35 309.51h-2.4M42.35 286.93h-2.4M42.35 264.35h-2.4M42.35 467.55v3.5M95.68 467.55v3.5M149.01 467.55v3.5M202.34 467.55v3.5M255.67 467.55v3.5M309 467.55v3.5M69.02 467.55v2.2M122.34 467.55v2.2M175.67 467.55v2.2M229 467.55v2.2M282.33 467.55v2.2" stroke="#262626" stroke-width="1.2" fill="none"/>
<g class="tl" text-anchor="end">
<text x="35.55" y="280.34">0.8</text>
<text x="35.55" y="302.92">0.6</text>
<text x="35.55" y="325.49">0.4</text>
<text x="35.55" y="348.07">0.2</text>
<text x="35.55" y="370.65">0.0</text>
<text x="35.55" y="393.23">-0.2</text>
<text x="35.55" y="415.81">-0.4</text>
<text x="35.55" y="438.38">-0.6</text>
<text x="35.55" y="460.96">-0.8</text>
</g>
<g class="tl" text-anchor="middle">
<text x="42.35" y="485.15">0</text>
<text x="95.68" y="485.15">5</text>
<text x="149.01" y="485.15">10</text>
<text x="202.34" y="485.15">15</text>
<text x="255.67" y="485.15">20</text>
<text x="309" y="485.15">25</text>
</g>
<text class="at" text-anchor="middle" x="175.98" y="507.35">Time (sec)</text>
<text class="at" text-anchor="middle" transform="translate(8.95 365.45) rotate(-90)">Roof acceleration (g)</text>
<path d="M194.35 276.05h31.6" stroke="#1a1a1a" stroke-width="1.4"/>
<path d="M194.35 293.25h31.6" stroke="#fa0000" stroke-width="1.4"/>
<text class="lg" x="229.25" y="280.75">Non-Isolated</text>
<text class="lg" x="229.25" y="297.75">Isolated</text>
<text class="nm" text-anchor="end" x="307.2" y="462.25">Bigbear</text>
</g>
<g>
<path d="M464.5 264.35V467.55M518.5 264.35V467.55M571.5 264.35V467.55M625.5 264.35V467.55M411.5 456.5H678.6M411.5 433.5H678.6M411.5 410.5H678.6M411.5 388.5H678.6M411.5 365.5H678.6M411.5 343.5H678.6M411.5 320.5H678.6M411.5 298.5H678.6M411.5 275.5H678.6" stroke="#e4e4e4" stroke-width="1" fill="none"/>
<clipPath id="c11"><rect x="411.5" y="264.35" width="267.1" height="203.2"/></clipPath>
<path clip-path="url(#c11)" d="M411.5 366.0L412.4 366.0L413.2 366.0L413.9 366.0L414.6 366.0L415.4 366.0L416.0 366.0L416.6 366.0L417.6 366.0L418.3 366.0L419.0 366.0L419.9 366.0L421.0 366.0L421.6 366.0L422.2 366.0L423.0 366.1L423.5 365.6L424.1 365.1L425.2 367.3L425.8 365.6L426.4 363.9L427.1 365.7L427.7 367.4L428.6 364.8L429.4 368.8L430.1 365.9L430.9 363.0L431.7 368.9L432.6 362.2L433.3 365.9L433.9 369.6L434.5 366.3L435.2 363.0L435.9 367.0L436.6 371.0L437.6 362.5L438.3 364.8L439.0 369.5L439.7 371.8L440.2 324.7L440.8 395.8L441.3 360.9L442.3 351.9L442.8 389.7L443.6 315.9L444.1 375.9L444.9 380.1L445.7 384.3L446.3 369.6L446.9 354.8L447.4 395.8L448.0 323.7L448.6 375.4L449.3 374.5L450.1 373.6L451.0 352.0L452.1 358.6L452.6 393.4L453.2 354.6L453.8 375.5L454.3 334.6L455.0 387.4L455.5 354.1L456.3 359.6L457.2 370.7L458.0 376.3L458.5 337.7L459.3 385.6L459.8 353.6L460.6 373.7L461.2 342.2L461.7 370.5L462.4 363.9L463.1 357.3L464.2 361.5L464.7 400.9L465.7 344.5L466.2 376.7L466.5 361.4L467.1 384.0L467.6 356.0L468.4 360.8L469.2 370.4L470.0 375.2L470.6 346.3L471.1 369.2L472.0 363.7L473.0 358.2L473.6 365.6L474.2 373.1L474.9 365.0L475.6 356.9L476.6 373.6L477.2 366.9L477.8 360.3L478.8 373.4L479.6 373.2L480.4 373.0L480.9 318.9L481.5 401.3L482.0 364.0L482.6 368.8L483.2 373.5L483.7 340.4L484.3 373.3L485.1 366.3L486.0 359.3L486.9 376.3L487.9 355.6L488.6 363.3L489.3 371.0L490.1 363.0L490.9 356.1L491.9 376.1L492.6 377.6L493.4 372.8L494.1 368.5L494.6 383.4L495.2 372.4L495.9 371.6L496.8 365.1L497.6 358.7L498.4 357.2L499.2 365.9L500.0 373.1L500.7 368.2L501.5 358.9L502.2 354.2L503.0 361.0L503.8 374.9L504.6 381.5L505.3 377.5L506.0 370.6L506.7 366.3L507.4 366.6L508.5 371.8L509.2 367.9L509.8 360.3L510.4 356.0L511.2 358.4L512.0 366.5L512.8 371.6L513.9 366.2L514.7 368.7L515.5 375.9L516.1 376.5L516.8 372.3L517.5 366.9L518.1 363.6L519.2 365.6L519.9 363.8L520.5 360.1L521.2 358.4L522.0 360.0L522.8 363.4L523.5 367.7L524.3 371.8L525.1 374.9L525.8 375.1L526.5 372.2L527.2 367.3L527.9 362.9L528.6 360.9L529.5 365.9L530.4 371.6L531.3 369.3L532.1 364.2L533.0 361.3L533.7 362.0L534.5 364.5L535.3 367.5L536.1 369.3L536.8 369.1L537.6 366.3L538.4 363.9L539.2 365.6L540.0 370.1L540.8 373.4L541.6 371.5L542.4 364.9L543.2 359.9L543.9 361.2L544.7 366.9L545.4 371.1L546.1 372.9L546.8 374.2L547.5 374.2L548.2 373.1L548.9 371.5L549.6 370.3L550.4 370.1L551.1 369.9L551.9 368.4L552.6 366.4L553.4 364.5L554.1 366.6L554.7 369.4L555.4 365.1L556.1 361.6L556.9 364.4L557.7 368.6L558.6 370.9L559.4 370.4L560.0 367.9L560.7 365.1L561.4 365.0L562.2 367.1L563.0 369.0L563.8 370.1L564.7 370.5L565.4 367.4L566.2 365.0L567.0 369.7L567.7 373.2L568.5 371.0L569.2 367.7L570.0 365.4L570.8 365.2L571.6 367.2L572.4 369.5L573.2 369.9L573.8 367.9L574.5 364.7L575.1 363.6L575.9 365.4L576.6 368.2L577.4 369.1L578.3 367.0L579.1 364.4L580.0 364.3L580.9 367.1L581.8 368.9L582.5 367.8L583.2 366.2L583.9 365.1L584.7 365.0L585.4 365.3L586.2 366.1L586.9 367.6L587.7 368.3L588.5 367.3L589.4 366.3L590.1 366.4L590.8 367.6L591.5 368.5L592.1 368.3L592.8 367.2L593.4 366.6L594.2 367.9L594.9 368.9L595.6 367.3L596.2 365.3L596.8 364.6L597.7 365.1L598.5 365.8L599.3 367.4L600.2 368.7L600.8 368.2L601.4 365.7L602.1 364.1L603.0 366.0L604.0 368.7L604.7 369.0L605.4 368.3L606.1 366.8L606.8 365.0L607.5 364.0L608.3 365.1L609.1 368.2L610.0 370.2L610.8 369.8L611.6 367.9L612.4 365.9L613.2 365.2L614.0 367.4L614.8 369.6L615.6 369.0L616.4 367.0L617.2 365.5L618.0 365.3L618.7 366.3L619.5 367.9L620.3 368.9L621.0 369.1L621.7 368.6L622.5 367.6L623.2 366.6L623.9 366.0L624.7 366.4L625.5 367.6L626.3 368.2L627.0 367.9L627.6 367.2L628.3 366.6L629.0 366.3L629.7 366.5L630.6 367.4L631.5 367.7L632.3 367.1L633.1 366.6L633.9 366.5L634.6 367.1L635.3 367.9L635.9 368.1L636.8 367.3L637.6 366.1L638.4 365.6L639.1 366.1L639.8 367.0L640.4 367.7L641.1 367.9L641.9 367.4L642.6 366.7L643.4 366.4L644.1 366.4L644.9 366.5L645.6 366.7L646.4 366.9L647.1 367.2L647.8 367.6L648.6 367.9L649.3 368.1L650.0 367.9L650.6 367.5L651.3 366.8L652.0 366.2L652.9 366.3L653.7 367.6L654.6 368.6L655.4 368.2L656.2 366.6L657.0 365.8L657.8 366.7L658.6 368.5L659.3 369.4L660.0 368.3L660.7 366.2L661.4 365.0L662.3 365.8L663.1 367.5L663.9 368.6L664.7 368.4L665.4 367.5L666.2 366.2L666.9 365.1L667.7 364.7L668.4 365.4L669.1 367.2L669.8 368.9L670.5 369.5L671.4 367.9L672.3 366.0L673.0 365.9L673.8 366.4L674.6 367.4L675.3 368.3L676.1 368.8L676.8 368.5L677.4 367.2L678.1 365.8L678.8 365.1L678.9 366.5" stroke="#050505" stroke-width="1.3" fill="none" stroke-linejoin="round"/>
<path clip-path="url(#c11)" d="M411.5 366.0L412.4 366.0L413.2 366.0L414.1 366.0L414.9 366.0L415.8 366.0L416.5 366.0L417.3 366.0L418.0 366.0L418.7 366.0L419.4 366.0L420.0 366.0L420.7 366.0L421.5 365.9L422.3 365.9L422.9 366.1L423.6 366.3L424.4 365.9L425.2 364.9L426.0 364.5L426.8 366.2L427.6 368.0L428.3 367.5L429.0 366.2L429.7 365.0L430.4 364.5L431.1 365.2L431.8 367.1L432.5 369.0L433.2 369.7L434.0 370.2L434.8 371.2L435.6 372.3L436.4 372.7L437.1 370.6L437.8 365.4L438.6 360.2L439.3 358.0L440.1 364.3L440.8 376.7L441.6 382.9L442.5 371.8L443.3 349.6L444.2 338.5L445.0 352.5L445.8 380.4L446.5 394.4L447.3 379.4L448.0 349.5L448.7 334.6L449.4 342.9L450.1 363.0L450.8 383.1L451.5 391.5L452.2 387.8L452.9 378.2L453.6 366.4L454.3 356.8L455.0 353.2L455.6 358.9L456.3 370.4L456.9 376.1L457.7 369.4L458.5 356.0L459.3 349.2L460.0 353.8L460.8 364.9L461.6 376.0L462.4 380.6L463.1 372.5L463.9 356.3L464.7 348.2L465.3 356.0L466.0 371.7L466.6 379.5L467.3 372.7L468.0 359.2L468.7 352.4L469.4 357.8L470.2 368.5L471.0 373.9L471.6 371.0L472.2 368.2L472.8 377.8L473.5 387.4L474.3 376.4L475.2 354.4L476.0 343.4L476.8 355.6L477.6 380.2L478.4 392.5L479.1 384.7L479.9 366.0L480.6 347.2L481.4 339.4L482.2 352.0L482.9 377.1L483.7 389.7L484.4 379.1L485.0 357.9L485.6 347.3L486.3 357.1L486.9 376.8L487.6 386.6L488.3 375.5L489.1 353.2L489.8 342.0L490.5 347.8L491.1 361.9L491.8 375.9L492.5 381.8L493.1 376.7L493.8 371.6L494.8 377.2L495.6 374.0L496.4 366.2L497.2 358.4L498.0 355.1L498.8 362.5L499.6 369.9L500.4 365.9L501.1 357.8L501.9 353.8L502.7 360.2L503.5 373.1L504.2 379.5L505.0 377.2L505.7 371.6L506.4 366.0L507.1 363.7L508.2 368.2L508.8 365.1L509.5 358.9L510.1 355.8L510.9 358.9L511.7 365.1L512.5 368.2L513.5 364.8L514.3 369.9L515.1 375.0L515.8 373.3L516.5 369.3L517.1 365.3L517.8 363.7L518.9 367.1L519.6 363.7L520.2 357.1L520.9 353.8L521.7 355.8L522.4 361.1L523.2 367.6L524.0 373.0L524.8 375.0L525.5 373.6L526.2 369.9L526.9 365.4L527.6 361.7L528.3 360.3L529.2 365.1L530.1 369.9L530.9 367.7L531.8 363.3L532.7 361.1L533.4 361.7L534.2 363.2L535.0 365.0L535.7 366.5L536.5 367.1L537.3 365.4L538.1 363.7L538.9 365.5L539.7 369.0L540.5 370.8L541.3 367.6L542.1 361.2L542.9 358.0L543.6 361.4L544.3 368.2L545.0 371.6L545.8 371.6L546.5 371.5L547.2 371.4L547.9 371.3L548.6 371.2L549.3 371.1L550.0 371.1L550.8 369.6L551.6 366.0L552.3 362.5L553.1 361.0L553.7 365.5L554.4 370.0L555.1 364.7L555.8 359.5L556.6 361.3L557.4 365.7L558.2 370.1L559.1 371.9L559.7 369.7L560.4 365.3L561.1 363.1L561.9 364.4L562.7 367.6L563.5 370.8L564.3 372.1L565.1 366.9L565.9 361.6L566.6 366.9L567.4 372.1L568.1 370.9L568.9 368.0L569.7 365.0L570.4 363.8L571.2 365.1L572.0 367.6L572.8 368.8L573.5 367.2L574.1 364.0L574.8 362.4L575.6 363.8L576.3 366.6L577.1 368.0L577.9 366.7L578.8 364.0L579.6 362.7L580.6 365.5L581.5 368.2L582.2 367.7L582.9 366.4L583.6 364.8L584.3 363.5L585.1 363.0L585.8 364.4L586.6 367.2L587.4 368.6L588.2 366.3L589.1 364.0L589.8 365.2L590.5 367.5L591.2 368.7L591.8 367.5L592.4 365.2L593.1 364.0L593.9 366.4L594.6 368.8L595.3 367.2L595.9 364.1L596.5 362.5L597.3 363.3L598.2 365.0L599.0 366.8L599.8 367.5L600.5 366.4L601.1 364.2L601.8 363.1L602.7 365.4L603.6 367.6L604.3 367.2L605.1 366.2L605.8 364.8L606.5 363.8L607.2 363.4L608.0 364.8L608.8 367.6L609.6 369.0L610.4 368.3L611.3 366.6L612.1 364.9L612.9 364.2L613.7 366.2L614.5 368.2L615.3 367.1L616.1 365.0L616.9 364.0L617.6 364.5L618.4 365.9L619.2 367.3L619.9 367.8L620.7 367.6L621.4 366.9L622.1 366.1L622.9 365.4L623.6 365.2L624.4 365.6L625.2 366.4L626.0 366.8L626.6 366.6L627.3 366.2L628.0 365.7L628.7 365.4L629.4 365.2L630.3 366.0L631.2 366.9L632.0 366.4L632.8 365.6L633.6 365.2L634.3 365.7L635.0 366.7L635.6 367.2L636.4 366.6L637.3 365.3L638.1 364.7L638.8 365.0L639.4 365.6L640.1 366.3L640.8 366.5L641.5 366.4L642.3 365.9L643.0 365.4L643.8 364.9L644.6 364.7L645.3 365.0L646.0 365.6L646.8 366.5L647.5 367.1L648.3 367.4L648.9 367.2L649.6 366.6L650.3 365.9L651.0 365.3L651.7 365.1L652.6 365.5L653.4 366.5L654.3 367.0L655.1 366.5L655.9 365.5L656.7 365.0L657.5 365.8L658.2 367.4L659.0 368.2L659.7 367.1L660.4 365.0L661.1 364.0L661.9 364.8L662.8 366.6L663.6 367.4L664.4 367.1L665.1 366.1L665.9 365.0L666.6 364.1L667.3 363.7L668.0 364.3L668.7 365.8L669.4 367.2L670.1 367.8L671.0 366.2L672.0 364.6L672.7 364.9L673.5 365.7L674.2 366.6L675.0 367.4L675.7 367.6L676.4 367.1L677.1 365.8L677.8 364.6L678.5 364.0L678.6 365.4" stroke="#fa0000" stroke-width="1.4" fill="none" stroke-linejoin="round"/>
<rect x="411.5" y="264.35" width="267.1" height="203.2" fill="none" stroke="#262626" stroke-width="1.2"/>
<path d="M411.5 456.26h-4.2M411.5 433.68h-4.2M411.5 411.11h-4.2M411.5 388.53h-4.2M411.5 365.95h-4.2M411.5 343.37h-4.2M411.5 320.79h-4.2M411.5 298.22h-4.2M411.5 275.64h-4.2M411.5 467.55h-2.4M411.5 444.97h-2.4M411.5 422.39h-2.4M411.5 399.82h-2.4M411.5 377.24h-2.4M411.5 354.66h-2.4M411.5 332.08h-2.4M411.5 309.51h-2.4M411.5 286.93h-2.4M411.5 264.35h-2.4M411.5 467.55v3.5M464.92 467.55v3.5M518.34 467.55v3.5M571.76 467.55v3.5M625.18 467.55v3.5M678.6 467.55v3.5M438.21 467.55v2.2M491.63 467.55v2.2M545.05 467.55v2.2M598.47 467.55v2.2M651.89 467.55v2.2" stroke="#262626" stroke-width="1.2" fill="none"/>
<g class="tl" text-anchor="end">
<text x="405.5" y="280.34">0.8</text>
<text x="405.5" y="302.92">0.6</text>
<text x="405.5" y="325.49">0.4</text>
<text x="405.5" y="348.07">0.2</text>
<text x="405.5" y="370.65">0.0</text>
<text x="405.5" y="393.23">-0.2</text>
<text x="405.5" y="415.81">-0.4</text>
<text x="405.5" y="438.38">-0.6</text>
<text x="405.5" y="460.96">-0.8</text>
</g>
<g class="tl" text-anchor="middle">
<text x="411.5" y="485.15">0</text>
<text x="464.92" y="485.15">5</text>
<text x="518.34" y="485.15">10</text>
<text x="571.76" y="485.15">15</text>
<text x="625.18" y="485.15">20</text>
<text x="678.6" y="485.15">25</text>
</g>
<text class="at" text-anchor="middle" x="545.35" y="507.35">Time (sec)</text>
<text class="at" text-anchor="middle" transform="translate(380 365.45) rotate(-90)">Roof acceleration (g)</text>
<path d="M563.5 276.05h31.6" stroke="#1a1a1a" stroke-width="1.4"/>
<path d="M563.5 293.25h31.6" stroke="#fa0000" stroke-width="1.4"/>
<text class="lg" x="598.4" y="280.75">Non-Isolated</text>
<text class="lg" x="598.4" y="297.75">Isolated</text>
<text class="nm" text-anchor="end" x="677.6" y="462.85">Palmspring</text>
</g>
<g>
<path d="M108.5 527.9V731.1M175.5 527.9V731.1M242.5 527.9V731.1M42.35 719.5H309M42.35 697.5H309M42.35 674.5H309M42.35 651.5H309M42.35 629.5H309M42.35 606.5H309M42.35 584.5H309M42.35 561.5H309M42.35 539.5H309" stroke="#e4e4e4" stroke-width="1" fill="none"/>
<clipPath id="c02"><rect x="42.35" y="527.9" width="266.65" height="203.2"/></clipPath>
<path clip-path="url(#c02)" d="M42.4 626.2L43.4 633.6L44.1 629.4L44.9 625.1L45.7 634.1L46.8 624.4L47.9 635.2L48.7 629.5L49.5 623.8L50.2 629.6L50.9 635.5L51.5 634.8L52.1 633.4L52.7 632.7L53.4 619.3L54.1 631.2L54.9 628.0L55.7 624.8L56.3 641.9L57.0 627.4L57.7 630.3L58.5 633.2L59.1 614.8L59.8 634.9L60.5 632.1L61.1 626.4L61.8 623.5L62.5 630.1L63.3 636.6L64.0 635.6L64.7 633.7L65.4 632.7L66.1 618.2L66.7 635.6L67.0 624.5L67.7 646.4L68.3 625.4L69.0 625.3L69.7 625.1L70.3 624.9L71.0 624.8L71.7 638.5L72.3 625.0L72.9 633.0L73.5 609.2L74.2 636.7L74.9 639.1L75.6 644.0L76.3 646.4L76.9 632.3L77.5 618.2L78.1 672.4L78.6 566.8L79.4 663.4L80.2 581.6L80.7 688.2L81.3 606.9L81.8 704.3L82.6 600.6L83.7 652.1L84.6 618.2L85.7 599.2L86.6 652.1L87.5 623.9L88.3 644.7L89.0 639.8L89.7 634.8L90.3 606.9L91.0 639.5L91.7 630.0L92.3 620.5L93.0 643.0L93.7 627.2L94.3 634.1L95.0 640.9L96.0 618.0L97.0 625.4L97.7 640.8L98.3 623.6L99.2 630.9L100.1 638.2L100.7 606.9L101.4 633.0L102.1 631.0L102.7 627.0L103.4 625.0L104.4 632.8L105.2 627.7L106.0 629.6L106.7 631.5L107.8 628.0L108.5 629.9L109.2 631.8L110.0 627.8L110.8 630.9L111.6 633.0L112.3 626.0L113.2 631.3L113.8 629.6L114.4 628.3L115.3 633.4L116.3 627.9L118.1 630.2L118.7 629.5L119.4 631.0L120.1 633.5L120.7 631.5L121.4 627.9L122.1 626.3L122.7 626.6L123.5 628.4L124.3 633.1L125.1 638.3L125.9 636.9L126.6 630.2L127.3 628.0L128.1 626.6L128.8 625.9L129.5 630.1L130.3 632.6L131.0 632.4L131.7 630.6L132.3 630.4L133.2 633.8L134.1 636.5L134.8 635.2L135.5 630.1L136.3 622.9L137.0 619.6L137.8 626.2L138.6 636.0L139.4 639.3L140.3 636.2L141.1 629.9L141.9 624.5L142.7 625.3L143.4 629.8L144.1 632.2L144.9 632.7L145.6 632.6L146.3 631.2L147.1 627.8L147.8 626.9L148.6 629.0L149.3 631.1L150.1 631.2L150.9 632.0L151.7 629.9L152.6 628.6L153.4 628.6L154.1 628.0L154.7 629.5L155.4 632.1L156.1 631.3L156.8 630.8L157.5 630.5L158.3 629.0L159.0 627.5L159.8 627.8L160.5 628.4L161.3 625.9L162.1 626.9L162.7 629.3L163.4 632.2L164.1 635.6L164.8 632.8L165.6 630.2L166.4 627.4L167.1 624.3L167.8 626.7L168.5 630.5L169.1 632.6L169.8 633.5L170.5 633.8L171.1 631.5L171.8 627.7L172.5 625.9L173.3 629.1L174.1 631.4L174.9 633.2L175.5 633.4L176.2 630.9L176.9 628.1L177.5 627.4L178.2 629.8L178.8 633.0L179.5 633.8L180.2 629.8L180.9 626.8L181.7 628.3L182.6 630.9L183.4 633.5L184.1 630.2L184.8 626.2L185.6 629.4L186.5 633.6L187.3 631.4L188.1 629.3L188.9 628.9L189.7 629.7L190.5 632.5L191.4 630.4L192.3 628.1L193.1 630.0L193.8 631.9L194.6 632.1L195.3 630.0L196.0 629.1L196.8 629.3L197.6 630.5L198.4 632.1L199.2 630.0L200.1 629.2L200.8 629.6L201.6 630.2L202.3 631.3L203.0 631.0L203.7 629.9L204.3 629.6L205.0 628.8L205.7 628.7L206.3 629.6L207.0 631.0L207.7 630.8L208.3 629.8L209.0 629.5L209.7 629.5L210.4 630.2L211.1 631.2L211.9 630.5L212.7 628.5L213.5 629.3L214.4 630.4L215.2 630.7L215.9 629.9L216.6 629.4L217.3 629.6L217.9 630.2L218.5 630.8L219.2 630.8L219.8 630.3L220.5 629.1L221.2 629.3L221.9 630.2L222.6 630.7L223.5 630.3L224.4 629.0L225.2 629.3L226.0 630.7L226.8 630.9L227.5 629.8L228.1 629.1L228.8 628.9L229.4 629.5L230.1 630.6L230.7 631.6L231.6 631.0L232.4 629.1L233.3 628.7L234.0 629.7L234.8 630.0L235.5 630.7L236.2 631.0L236.9 630.5L237.5 629.6L238.2 629.0L239.1 630.2L239.9 631.4L240.6 630.3L241.3 629.5L242.0 629.3L242.7 629.6L243.3 630.7L244.0 631.9L244.8 630.9L245.6 629.2L246.4 629.1L247.3 630.3L248.1 631.0L248.8 630.7L249.4 629.8L250.1 629.1L250.9 629.7L251.8 631.5L252.6 630.8L253.3 629.5L254.1 629.5L255.0 630.3L255.8 630.5L256.7 631.3L257.3 630.8L258.0 629.6L258.6 629.3L259.5 630.7L260.5 631.3L261.3 630.4L262.2 629.9L263.1 629.6L263.7 629.7L264.4 630.5L265.1 631.3L265.8 630.0L266.6 628.7L267.2 629.4L267.8 630.6L268.5 630.8L269.3 630.1L270.1 629.5L270.9 629.4L271.7 630.3L272.5 631.1L273.2 629.9L274.0 628.9L274.9 630.5L275.7 631.6L276.4 630.2L277.0 629.5L277.8 630.4L278.6 630.8L279.3 630.2L280.0 629.7L280.7 629.5L281.4 629.7L282.0 630.2L282.7 630.8L283.3 631.3L284.0 631.0L284.7 629.4L285.4 628.7L286.3 629.6L287.1 630.9L287.9 631.2L288.6 630.5L289.4 630.0L290.1 629.8L290.8 629.9L291.5 630.3L292.2 630.8L293.1 630.0L294.0 628.8L295.0 629.9L295.9 631.4L296.5 630.9L297.2 629.9L297.9 629.3L298.5 629.5L299.4 629.7L300.3 631.0L301.1 630.4L301.8 629.2L302.6 629.2L303.3 630.4L304.0 631.1L304.7 630.4L305.3 629.3L305.9 629.0L306.6 630.3L307.3 631.0L308.0 630.7L308.7 630.4L309.4 630.3" stroke="#050505" stroke-width="1.3" fill="none" stroke-linejoin="round"/>
<path clip-path="url(#c02)" d="M42.4 632.2L43.3 628.8L44.2 625.4L44.9 627.4L45.6 631.5L46.3 633.5L47.0 631.7L47.7 628.0L48.4 626.2L49.1 628.1L49.8 631.9L50.5 633.7L51.1 629.6L51.8 625.4L52.6 629.0L53.5 632.5L54.2 633.8L54.9 636.7L55.6 639.6L56.3 640.8L57.1 639.8L57.8 637.5L58.6 635.2L59.3 634.2L60.0 631.4L60.6 625.6L61.3 622.8L62.0 626.2L62.7 633.1L63.4 636.6L64.2 630.0L65.0 623.4L65.7 626.4L66.4 632.2L67.1 635.2L67.7 629.5L68.3 623.9L69.1 628.8L69.9 633.8L70.5 629.5L71.0 625.2L71.8 622.9L72.5 617.3L73.2 611.8L73.9 609.5L74.8 620.9L75.6 643.6L76.5 655.0L77.3 650.5L78.1 638.6L78.9 623.9L79.7 612.0L80.5 607.5L81.2 614.0L81.9 629.8L82.7 645.5L83.4 652.1L84.1 646.0L84.9 631.2L85.6 616.4L86.3 610.3L87.1 615.1L87.8 626.7L88.5 638.3L89.3 643.0L90.1 636.6L90.9 623.6L91.7 617.1L92.5 624.0L93.4 637.8L94.2 644.7L95.1 635.3L95.9 616.4L96.7 606.9L97.4 614.0L98.1 631.2L98.8 648.4L99.5 655.5L100.3 648.7L101.1 632.5L101.9 616.2L102.7 609.5L103.5 617.9L104.3 634.7L105.0 643.0L105.7 639.9L106.3 632.3L107.0 624.7L107.7 621.6L108.4 624.7L109.2 630.9L109.9 634.0L110.7 632.3L111.5 628.9L112.3 627.2L113.0 628.4L113.7 630.6L114.3 631.8L115.0 631.1L115.7 629.5L116.3 627.9L117.0 627.2L117.7 627.9L118.3 629.5L119.0 631.1L119.7 631.8L120.3 630.4L121.0 627.2L121.7 624.0L122.3 622.7L123.1 627.0L123.9 635.4L124.7 639.7L125.5 637.3L126.2 631.8L126.9 626.2L127.7 623.9L128.4 625.3L129.1 628.9L129.9 632.5L130.6 634.0L131.3 631.8L131.9 629.5L132.8 634.2L133.7 638.9L134.4 635.7L135.1 628.0L135.9 620.3L136.6 617.1L137.4 623.6L138.2 636.6L139.0 643.0L139.9 637.9L140.7 627.5L141.5 622.3L142.3 624.0L143.0 628.1L143.7 632.3L144.5 634.0L145.2 632.8L145.9 629.8L146.7 626.8L147.4 625.5L148.2 627.4L148.9 631.1L149.7 632.9L150.5 632.1L151.3 630.1L152.2 628.1L153.0 627.2L153.7 627.9L154.3 629.5L155.0 631.1L155.7 631.8L156.4 631.1L157.1 629.5L157.9 627.9L158.6 627.2L159.4 626.9L160.1 625.9L160.9 625.0L161.7 624.6L162.3 627.4L163.0 632.9L163.7 635.6L164.4 633.8L165.2 629.6L166.0 625.4L166.7 623.6L167.4 625.3L168.1 629.4L168.7 633.5L169.4 635.1L170.1 633.7L170.7 630.1L171.4 626.5L172.1 625.0L172.9 627.1L173.7 631.4L174.5 633.6L175.1 632.6L175.8 630.1L176.5 627.7L177.1 626.7L177.8 628.7L178.4 632.8L179.1 634.8L179.8 629.9L180.5 624.9L181.3 627.1L182.2 631.5L183.0 633.7L183.7 629.3L184.4 624.9L185.2 629.1L186.1 633.3L186.9 631.6L187.7 628.1L188.5 626.3L189.3 629.1L190.1 631.9L191.0 629.7L191.9 627.5L192.7 628.7L193.4 631.1L194.2 632.3L194.9 630.0L195.6 627.6L196.4 628.5L197.2 630.4L198.0 631.3L198.8 629.6L199.7 628.0L200.4 628.7L201.2 630.2L201.9 631.0L202.6 630.5L203.3 629.3L203.9 628.1L204.6 627.6L205.3 628.0L205.9 629.1L206.6 630.1L207.3 630.5L207.9 629.2L208.6 628.0L209.3 628.6L210.0 630.0L210.7 630.7L211.5 629.2L212.3 627.8L213.2 628.4L214.0 629.7L214.8 630.4L215.5 629.1L216.2 627.8L216.9 628.5L217.5 629.9L218.1 630.5L218.8 630.2L219.4 629.4L220.1 628.6L220.8 628.3L221.5 629.5L222.2 630.8L223.1 629.4L224.0 628.0L224.8 628.6L225.6 629.8L226.4 630.4L227.1 629.8L227.7 628.4L228.4 627.7L229.0 628.6L229.7 630.4L230.3 631.3L231.2 630.4L232.0 628.7L232.9 627.8L233.6 628.5L234.4 629.8L235.1 630.5L235.8 630.2L236.5 629.4L237.1 628.7L237.8 628.4L238.7 629.6L239.5 630.9L240.2 630.1L240.9 628.6L241.6 627.9L242.3 628.7L242.9 630.4L243.6 631.3L244.4 630.5L245.2 628.8L246.0 628.0L246.9 629.5L247.7 631.0L248.4 630.2L249.0 628.7L249.7 627.9L250.5 629.5L251.4 631.1L252.2 630.5L252.9 629.2L253.7 628.5L254.6 629.1L255.4 630.2L256.3 630.8L256.9 630.2L257.6 629.0L258.2 628.4L259.1 629.7L260.1 631.1L260.9 630.4L261.8 629.0L262.7 628.2L263.3 628.9L264.0 630.1L264.7 630.7L265.4 629.3L266.2 627.9L266.8 628.5L267.4 629.7L268.1 630.3L268.9 629.4L269.7 628.4L270.5 628.9L271.3 629.9L272.1 630.4L272.8 629.2L273.6 627.9L274.5 629.5L275.3 631.2L276.0 629.9L276.6 628.6L277.4 629.6L278.2 630.6L278.9 630.1L279.6 629.0L280.3 628.4L281.0 628.8L281.6 629.8L282.3 630.7L282.9 631.1L283.6 630.3L284.3 628.7L285.0 627.8L285.9 628.7L286.7 630.3L287.5 631.1L288.2 630.5L289.0 629.3L289.7 628.7L290.4 629.1L291.1 629.9L291.8 630.3L292.7 629.1L293.6 627.9L294.6 629.4L295.5 630.9L296.1 630.5L296.8 629.5L297.5 628.5L298.1 628.1L299.0 629.4L299.9 630.7L300.7 629.4L301.4 628.1L302.2 628.7L302.9 629.9L303.6 630.5L304.3 629.9L304.9 628.7L305.5 628.0L306.2 629.2L306.9 630.4L307.6 630.2L308.3 629.9L309.0 629.8" stroke="#fa0000" stroke-width="1.4" fill="none" stroke-linejoin="round"/>
<rect x="42.35" y="527.9" width="266.65" height="203.2" fill="none" stroke="#262626" stroke-width="1.2"/>
<path d="M42.35 719.81h-4.2M42.35 697.23h-4.2M42.35 674.66h-4.2M42.35 652.08h-4.2M42.35 629.5h-4.2M42.35 606.92h-4.2M42.35 584.34h-4.2M42.35 561.77h-4.2M42.35 539.19h-4.2M42.35 731.1h-2.4M42.35 708.52h-2.4M42.35 685.94h-2.4M42.35 663.37h-2.4M42.35 640.79h-2.4M42.35 618.21h-2.4M42.35 595.63h-2.4M42.35 573.06h-2.4M42.35 550.48h-2.4M42.35 527.9h-2.4M42.35 731.1v3.5M109.01 731.1v3.5M175.67 731.1v3.5M242.34 731.1v3.5M309 731.1v3.5M75.68 731.1v2.2M142.34 731.1v2.2M209.01 731.1v2.2M275.67 731.1v2.2" stroke="#262626" stroke-width="1.2" fill="none"/>
<g class="tl" text-anchor="end">
<text x="35.55" y="543.89">0.8</text>
<text x="35.55" y="566.47">0.6</text>
<text x="35.55" y="589.04">0.4</text>
<text x="35.55" y="611.62">0.2</text>
<text x="35.55" y="634.2">0.0</text>
<text x="35.55" y="656.78">-0.2</text>
<text x="35.55" y="679.36">-0.4</text>
<text x="35.55" y="701.93">-0.6</text>
<text x="35.55" y="724.51">-0.8</text>
</g>
<g class="tl" text-anchor="middle">
<text x="42.35" y="748.7">0</text>
<text x="109.01" y="748.7">5</text>
<text x="175.67" y="748.7">10</text>
<text x="242.34" y="748.7">15</text>
<text x="309" y="748.7">20</text>
</g>
<text class="at" text-anchor="middle" x="175.98" y="770.9">Time (sec)</text>
<text class="at" text-anchor="middle" transform="translate(8.95 629) rotate(-90)">Roof acceleration (g)</text>
<path d="M194.35 539.6h31.6" stroke="#1a1a1a" stroke-width="1.4"/>
<path d="M194.35 556.8h31.6" stroke="#fa0000" stroke-width="1.4"/>
<text class="lg" x="229.25" y="544.3">Non-Isolated</text>
<text class="lg" x="229.25" y="561.3">Isolated</text>
<text class="nm" text-anchor="end" x="307.2" y="725.8">Gilroy</text>
</g>
<g>
<path d="M478.5 527.9V731.1M544.5 527.9V731.1M611.5 527.9V731.1M411.5 719.5H678.6M411.5 697.5H678.6M411.5 674.5H678.6M411.5 651.5H678.6M411.5 629.5H678.6M411.5 606.5H678.6M411.5 584.5H678.6M411.5 561.5H678.6M411.5 539.5H678.6" stroke="#e4e4e4" stroke-width="1" fill="none"/>
<clipPath id="c12"><rect x="411.5" y="527.9" width="267.1" height="203.2"/></clipPath>
<path clip-path="url(#c12)" d="M411.5 628.7L412.4 630.3L413.2 629.1L414.0 628.0L414.7 629.0L415.3 630.1L415.9 629.5L416.5 628.9L417.6 630.8L418.3 629.8L419.0 628.9L419.7 629.8L420.3 630.7L421.0 629.7L421.6 628.7L422.2 629.5L422.8 630.3L423.6 629.1L424.3 627.8L425.1 629.4L425.8 630.9L426.7 629.5L427.5 628.1L428.6 631.0L429.5 629.7L430.3 628.3L431.1 630.4L431.9 632.4L432.7 629.9L433.6 627.5L434.2 630.0L434.9 632.6L435.6 629.5L436.4 626.4L437.4 632.2L438.2 629.9L439.0 627.7L440.0 633.0L440.7 630.1L441.4 627.1L442.1 629.3L442.8 631.6L443.9 627.9L444.5 629.7L445.1 631.5L446.0 626.0L446.8 620.4L447.5 628.5L448.2 636.6L448.9 608.5L449.6 645.8L450.2 620.2L451.3 624.5L452.0 646.8L452.6 624.5L453.4 622.8L454.2 621.2L454.9 647.2L455.6 623.0L456.3 628.9L457.0 634.9L457.7 577.6L458.4 662.2L459.0 623.7L459.2 634.6L459.8 606.9L460.5 633.2L461.6 621.7L462.2 650.9L462.9 619.4L463.5 620.5L464.2 621.6L464.8 632.0L465.4 642.4L466.5 637.8L467.2 581.0L467.9 661.4L468.5 621.7L469.6 634.7L470.3 612.6L470.9 635.5L471.6 630.8L472.3 626.0L472.9 652.1L473.6 620.9L474.4 622.8L475.2 624.7L475.9 690.0L476.5 584.9L477.2 634.3L478.0 640.3L478.7 594.5L479.3 625.5L479.9 656.6L480.5 624.3L481.4 633.0L482.3 641.8L483.0 630.2L483.6 618.7L484.3 646.4L485.0 621.9L485.9 630.1L486.8 638.4L487.5 585.5L488.2 623.0L489.0 660.5L489.6 621.8L490.7 633.3L491.4 590.8L492.0 647.6L492.7 621.0L493.3 630.1L493.9 639.2L494.5 630.7L495.2 622.2L495.9 628.8L496.5 635.4L497.1 627.6L497.7 619.8L498.4 628.0L499.2 636.2L500.1 634.6L501.0 632.9L501.6 597.9L502.4 643.0L503.1 625.2L503.8 627.9L504.5 633.4L505.2 636.1L506.0 633.7L506.9 631.3L507.5 616.3L508.2 631.0L509.0 628.9L509.7 626.2L510.7 633.2L511.3 631.4L511.9 629.6L512.8 633.0L513.6 633.9L514.4 630.7L515.1 628.4L515.8 629.2L516.6 629.4L517.7 627.0L518.4 629.2L519.1 630.7L519.9 630.5L520.6 631.3L521.4 633.4L522.2 631.1L523.0 626.4L523.8 622.9L524.6 622.8L525.4 626.4L526.2 632.6L527.0 636.9L527.8 638.2L528.6 636.2L529.4 631.0L530.2 625.5L531.0 622.7L531.8 626.2L532.5 634.2L533.3 638.6L534.0 636.8L534.8 631.3L535.5 625.4L536.2 621.9L537.1 624.1L537.9 631.9L538.8 637.1L539.4 633.0L540.1 628.9L540.9 629.2L541.7 628.2L542.5 626.8L543.3 626.1L544.1 626.5L544.9 628.5L545.7 631.4L546.5 632.7L547.2 631.6L547.9 629.4L548.5 627.4L549.2 626.8L550.0 629.9L550.9 633.1L551.5 632.7L552.2 630.9L552.9 628.7L553.6 627.5L554.5 630.3L555.4 633.8L556.2 633.2L557.0 630.7L557.8 628.1L558.6 626.9L559.5 628.5L560.3 631.5L561.2 633.2L562.0 631.7L562.9 628.4L563.7 627.1L564.5 628.4L565.2 630.9L566.0 632.7L566.8 633.1L567.6 632.1L568.3 630.3L569.1 628.5L569.8 628.0L570.6 628.7L571.3 630.0L572.0 631.6L572.7 633.2L573.4 633.1L574.1 631.3L574.8 628.4L575.5 626.7L576.2 627.8L576.9 630.6L577.6 633.3L578.3 634.4L579.3 629.4L580.2 624.1L580.9 626.4L581.7 631.7L582.5 634.8L583.1 634.0L583.8 631.1L584.4 627.9L585.1 626.2L585.8 626.8L586.5 629.6L587.2 632.9L587.9 635.1L588.7 634.4L589.5 630.9L590.3 626.8L591.0 624.8L591.8 626.1L592.6 630.1L593.4 634.0L594.2 635.0L595.0 633.5L595.7 630.9L596.4 628.8L597.1 628.3L597.9 629.7L598.7 631.5L599.5 632.2L600.3 631.2L601.0 629.5L601.8 628.0L602.5 627.7L603.4 629.1L604.2 631.1L605.1 631.6L605.9 630.3L606.7 628.8L607.5 628.4L608.4 630.8L609.2 632.9L610.1 631.3L610.9 628.3L611.7 627.0L612.5 628.0L613.2 630.0L614.0 631.7L614.7 632.0L615.4 631.2L616.1 629.9L616.8 628.6L617.5 627.9L618.2 628.0L618.9 628.8L619.6 629.9L620.3 631.0L621.0 631.7L621.7 631.9L622.4 631.7L623.1 631.1L623.9 630.5L624.6 629.7L625.3 629.0L626.0 628.3L626.8 628.2L627.6 629.6L628.5 631.4L629.3 632.4L630.0 632.1L630.7 631.0L631.4 629.5L632.1 628.3L632.9 627.9L633.7 628.8L634.5 630.3L635.3 631.3L636.1 631.6L637.0 631.4L637.7 631.3L638.4 631.2L639.2 631.0L639.9 630.7L640.6 630.1L641.3 629.4L642.1 628.8L642.9 628.8L643.7 629.9L644.5 631.4L645.3 632.1L646.2 630.9L647.1 629.1L648.0 628.6L648.7 629.1L649.4 629.9L650.1 630.3L650.8 630.5L651.5 630.5L652.3 630.4L653.2 630.4L654.0 630.1L654.8 629.7L655.6 629.3L656.4 629.3L657.2 629.6L658.0 630.3L658.8 631.2L659.6 632.0L660.4 632.4L661.1 632.2L661.9 631.5L662.6 630.4L663.3 629.3L664.0 628.6L664.7 628.4L665.5 629.0L666.2 630.1L667.0 631.1L667.8 631.5L668.5 630.9L669.3 629.5L670.1 628.3L670.9 628.1L671.7 628.6L672.5 629.6L673.3 630.6L674.0 631.3L674.8 631.4L675.6 631.3L676.5 631.3L677.3 631.5L678.2 631.4L679.0 630.9" stroke="#050505" stroke-width="1.3" fill="none" stroke-linejoin="round"/>
<path clip-path="url(#c12)" d="M411.5 630.2L412.2 630.0L412.8 629.4L413.5 628.8L414.2 628.5L414.8 629.2L415.5 630.6L416.1 631.3L417.0 629.6L417.9 628.0L418.7 629.8L419.4 631.7L420.1 631.2L420.8 629.9L421.5 628.6L422.1 628.1L422.9 629.8L423.6 631.4L424.3 630.3L425.0 628.1L425.6 626.9L426.5 629.4L427.4 631.9L428.2 629.8L428.9 627.6L429.7 629.9L430.4 632.1L431.1 630.7L431.8 627.9L432.4 626.5L433.3 627.9L434.2 630.7L435.1 632.0L436.0 629.2L436.8 626.4L437.7 628.3L438.5 632.7L439.4 637.0L440.2 638.9L441.0 636.6L441.9 631.0L442.7 625.5L443.6 623.2L444.4 625.3L445.2 629.6L446.0 631.8L446.7 629.6L447.4 625.4L448.1 623.3L448.8 625.2L449.5 629.8L450.2 634.4L450.9 636.3L451.6 634.8L452.2 631.2L452.9 627.6L453.6 626.1L454.4 629.2L455.2 635.4L456.0 638.5L456.7 634.0L457.4 623.0L458.1 612.0L458.8 607.5L459.5 614.8L460.2 632.6L461.0 650.4L461.7 657.7L462.4 650.4L463.2 632.9L463.9 615.3L464.7 608.1L465.6 628.4L466.5 648.7L467.3 638.8L468.1 619.1L468.9 609.2L469.8 618.6L470.6 637.4L471.5 646.8L472.2 643.1L472.9 634.2L473.6 625.3L474.3 621.6L475.1 628.7L475.9 642.8L476.7 649.8L477.5 643.0L478.3 626.5L479.1 610.0L479.9 603.2L480.6 610.4L481.3 627.9L482.1 645.4L482.8 652.6L483.6 642.3L484.3 621.7L485.1 611.4L485.8 617.8L486.4 630.6L487.1 637.0L487.9 632.3L488.8 622.9L489.6 618.2L490.3 625.4L491.0 639.6L491.6 646.8L492.4 640.4L493.1 627.6L493.9 621.3L494.6 624.0L495.4 630.5L496.1 637.0L496.8 639.7L497.7 636.6L498.5 630.3L499.4 627.2L500.2 630.1L501.0 632.9L501.7 628.7L502.5 620.2L503.2 616.0L503.9 620.8L504.7 632.5L505.4 644.3L506.1 649.1L506.9 640.1L507.7 622.0L508.6 613.0L509.3 617.1L510.1 626.9L510.8 636.7L511.5 640.8L512.2 638.8L512.9 634.0L513.6 629.2L514.3 627.2L515.0 629.5L515.7 631.8L516.5 627.7L517.3 623.6L518.0 625.0L518.7 628.3L519.5 631.5L520.2 632.9L521.0 631.7L521.8 628.7L522.6 625.0L523.4 622.0L524.2 620.8L525.0 623.7L525.8 630.6L526.6 637.6L527.4 640.5L528.2 637.4L529.0 629.9L529.8 622.4L530.6 619.3L531.4 624.7L532.1 635.4L532.9 640.8L533.6 637.4L534.4 629.0L535.1 620.7L535.8 617.3L536.7 622.9L537.5 634.1L538.4 639.7L539.0 633.5L539.7 627.2L540.5 627.2L541.3 626.9L542.1 626.6L542.9 626.4L543.7 626.3L544.5 627.6L545.3 630.3L546.1 631.6L546.8 630.7L547.5 628.6L548.1 626.5L548.8 625.6L549.6 628.7L550.4 631.9L551.1 631.1L551.8 629.2L552.5 627.4L553.2 626.6L554.1 629.9L555.0 633.3L555.8 632.3L556.6 629.9L557.4 627.6L558.2 626.6L559.1 628.2L559.9 631.3L560.8 632.9L561.6 631.2L562.5 627.7L563.3 626.0L564.1 627.1L564.8 629.8L565.6 632.5L566.4 633.7L567.1 632.5L567.9 629.7L568.7 626.9L569.4 625.8L570.2 626.9L570.9 629.6L571.6 632.3L572.3 633.4L573.0 632.3L573.7 629.6L574.4 626.9L575.1 625.8L575.8 626.9L576.5 629.6L577.2 632.3L577.9 633.4L578.9 627.8L579.8 622.2L580.5 625.3L581.3 631.6L582.1 634.7L582.7 633.2L583.4 629.6L584.0 625.9L584.7 624.4L585.4 626.0L586.1 629.8L586.8 633.6L587.5 635.1L588.3 633.5L589.1 629.5L589.9 625.5L590.6 623.9L591.4 625.4L592.2 629.2L593.0 633.1L593.8 634.6L594.6 633.5L595.3 630.9L596.0 628.2L596.7 627.1L597.5 628.4L598.3 630.8L599.1 632.0L599.9 631.2L600.6 629.2L601.4 627.2L602.1 626.3L603.0 627.6L603.8 630.1L604.7 631.4L605.5 630.4L606.3 628.4L607.1 627.4L608.0 629.9L608.8 632.4L609.7 630.8L610.5 627.7L611.3 626.1L612.1 626.8L612.8 628.6L613.6 630.4L614.3 631.1L615.0 630.7L615.7 629.7L616.4 628.5L617.1 627.4L617.8 627.1L618.5 627.4L619.2 628.2L619.9 629.3L620.6 630.4L621.3 631.2L622.0 631.5L622.7 631.0L623.5 629.9L624.2 628.5L624.9 627.3L625.6 626.9L626.4 627.6L627.2 629.2L628.1 630.9L628.9 631.6L629.6 631.2L630.3 630.2L631.0 629.0L631.7 627.9L632.5 627.6L633.3 628.0L634.1 629.0L634.9 630.2L635.7 631.3L636.6 631.7L637.3 631.5L638.0 630.9L638.7 630.2L639.5 629.3L640.2 628.5L640.9 628.0L641.7 627.8L642.5 628.3L643.3 629.5L644.1 630.7L644.9 631.2L645.8 630.4L646.7 628.6L647.6 627.7L648.3 628.0L649.0 628.8L649.7 629.8L650.4 630.6L651.1 630.9L651.9 630.6L652.8 629.9L653.6 629.1L654.4 628.4L655.2 628.2L656.0 628.4L656.8 629.1L657.6 630.1L658.4 631.0L659.2 631.7L660.0 632.0L660.7 631.7L661.5 631.0L662.2 630.0L662.9 629.1L663.6 628.4L664.3 628.1L665.1 628.5L665.8 629.4L666.6 630.3L667.4 630.7L668.1 630.2L668.9 629.0L669.7 627.8L670.5 627.3L671.3 627.6L672.1 628.4L672.9 629.5L673.6 630.6L674.4 631.3L675.2 631.6L676.1 631.4L676.9 630.9L677.8 630.4L678.6 630.1" stroke="#fa0000" stroke-width="1.4" fill="none" stroke-linejoin="round"/>
<rect x="411.5" y="527.9" width="267.1" height="203.2" fill="none" stroke="#262626" stroke-width="1.2"/>
<path d="M411.5 719.81h-4.2M411.5 697.23h-4.2M411.5 674.66h-4.2M411.5 652.08h-4.2M411.5 629.5h-4.2M411.5 606.92h-4.2M411.5 584.34h-4.2M411.5 561.77h-4.2M411.5 539.19h-4.2M411.5 731.1h-2.4M411.5 708.52h-2.4M411.5 685.94h-2.4M411.5 663.37h-2.4M411.5 640.79h-2.4M411.5 618.21h-2.4M411.5 595.63h-2.4M411.5 573.06h-2.4M411.5 550.48h-2.4M411.5 527.9h-2.4M411.5 731.1v3.5M478.27 731.1v3.5M545.05 731.1v3.5M611.83 731.1v3.5M678.6 731.1v3.5M444.89 731.1v2.2M511.66 731.1v2.2M578.44 731.1v2.2M645.21 731.1v2.2" stroke="#262626" stroke-width="1.2" fill="none"/>
<g class="tl" text-anchor="end">
<text x="405.5" y="543.89">0.8</text>
<text x="405.5" y="566.47">0.6</text>
<text x="405.5" y="589.04">0.4</text>
<text x="405.5" y="611.62">0.2</text>
<text x="405.5" y="634.2">0.0</text>
<text x="405.5" y="656.78">-0.2</text>
<text x="405.5" y="679.36">-0.4</text>
<text x="405.5" y="701.93">-0.6</text>
<text x="405.5" y="724.51">-0.8</text>
</g>
<g class="tl" text-anchor="middle">
<text x="411.5" y="748.7">0</text>
<text x="478.27" y="748.7">5</text>
<text x="545.05" y="748.7">10</text>
<text x="611.83" y="748.7">15</text>
<text x="678.6" y="748.7">20</text>
</g>
<text class="at" text-anchor="middle" x="545.35" y="770.9">Time (sec)</text>
<text class="at" text-anchor="middle" transform="translate(380 629) rotate(-90)">Roof acceleration (g)</text>
<path d="M563.5 539.6h31.6" stroke="#1a1a1a" stroke-width="1.4"/>
<path d="M563.5 556.8h31.6" stroke="#fa0000" stroke-width="1.4"/>
<text class="lg" x="598.4" y="544.3">Non-Isolated</text>
<text class="lg" x="598.4" y="561.3">Isolated</text>
<text class="nm" text-anchor="end" x="676.8" y="725.8">Parkfield</text>
</g>
<g>
<path d="M108.5 791.65V994.85M175.5 791.65V994.85M242.5 791.65V994.85M42.35 983.5H309M42.35 960.5H309M42.35 938.5H309M42.35 915.5H309M42.35 893.5H309M42.35 870.5H309M42.35 847.5H309M42.35 825.5H309M42.35 802.5H309" stroke="#e4e4e4" stroke-width="1" fill="none"/>
<clipPath id="c03"><rect x="42.35" y="791.65" width="266.65" height="203.2"/></clipPath>
<path clip-path="url(#c03)" d="M42.4 892.3L43.3 894.6L44.4 892.5L45.0 893.0L45.7 893.9L46.3 894.4L47.0 893.6L47.6 892.0L48.3 891.2L49.1 892.8L50.0 894.3L51.0 892.2L51.9 893.5L52.8 894.8L53.4 893.6L54.0 892.5L54.7 893.6L55.3 894.6L56.3 892.1L56.9 893.4L57.6 894.8L58.3 893.1L59.0 891.4L59.7 892.2L60.3 893.8L60.9 894.6L62.0 891.8L62.5 893.7L63.1 895.5L63.7 893.3L64.3 891.0L65.0 901.7L65.7 912.4L66.3 901.7L67.0 891.0L67.7 894.4L68.3 901.2L69.0 904.5L69.8 893.2L70.6 882.0L71.4 910.2L72.1 840.2L72.7 938.0L73.5 879.7L74.3 910.2L75.0 896.1L75.7 882.0L76.3 884.3L77.0 889.9L77.7 895.5L78.3 897.9L79.0 882.0L79.7 894.6L80.4 897.2L81.1 899.7L81.8 879.1L82.5 898.9L83.3 886.8L83.9 905.7L84.6 890.6L85.7 895.6L86.3 883.1L87.0 894.8L87.7 893.9L88.3 892.0L89.0 891.0L89.7 915.5L90.3 891.9L91.0 893.4L91.7 896.4L92.3 897.9L93.0 884.2L93.7 896.3L94.5 893.9L95.4 889.2L96.3 886.8L96.9 890.0L97.6 896.4L98.3 899.5L99.4 888.1L100.1 906.8L100.7 888.4L101.5 890.3L102.2 894.2L102.9 896.1L103.5 885.0L104.2 895.2L104.8 893.7L105.5 890.5L106.1 889.0L106.8 893.6L107.4 898.2L108.4 890.9L109.1 893.8L109.7 896.7L110.4 892.8L111.0 888.8L112.1 896.0L112.8 892.8L113.6 889.6L114.2 892.3L114.9 895.1L115.5 893.7L116.1 890.9L116.7 889.5L117.6 893.4L118.4 897.3L119.1 893.9L119.9 890.6L120.6 892.8L121.4 894.9L122.1 894.1L122.8 892.6L123.4 891.8L124.5 897.2L125.3 894.4L126.0 891.6L126.7 892.4L127.4 894.2L128.1 895.0L128.9 893.5L129.6 891.8L130.2 893.6L130.8 895.7L131.7 894.9L132.6 893.4L133.3 893.3L133.9 893.3L134.6 892.8L135.5 891.2L136.4 893.1L138.2 898.0L138.9 894.0L139.7 890.7L140.5 891.7L141.2 891.6L141.9 892.3L142.7 894.1L143.4 896.4L144.1 897.6L144.8 896.5L145.5 894.7L146.2 895.8L146.9 897.3L147.5 896.7L148.2 894.5L148.8 891.3L149.5 890.3L150.1 892.3L150.8 895.3L151.5 896.8L152.2 896.5L153.0 895.0L153.9 894.7L154.7 892.8L155.5 889.9L156.3 892.3L157.0 896.4L157.7 897.8L158.4 895.3L159.0 891.7L159.7 891.0L160.5 893.6L161.2 894.7L162.0 895.1L162.8 896.4L163.5 896.3L164.1 893.1L164.8 890.8L165.6 892.2L166.4 896.1L167.1 897.7L167.9 894.7L168.7 893.9L169.5 894.0L170.3 893.3L171.2 893.3L172.1 894.8L172.7 895.5L173.4 894.9L174.0 893.0L174.7 891.2L175.6 892.7L176.4 895.8L177.1 896.4L177.8 895.5L178.5 893.1L179.2 891.7L180.0 893.7L180.9 896.5L181.5 896.1L182.2 893.9L182.9 891.8L183.5 891.3L184.5 893.8L185.4 896.0L186.2 893.8L187.1 891.4L187.8 892.6L188.5 895.1L189.3 894.9L190.0 894.8L190.7 894.9L191.5 894.0L192.2 892.0L193.0 892.8L193.9 897.0L194.7 896.3L195.6 892.8L196.4 892.2L197.4 895.2L198.3 895.3L199.1 894.1L199.9 893.1L200.6 892.8L201.5 894.4L202.4 895.3L203.1 894.3L203.8 893.4L204.5 893.4L205.2 893.6L205.8 893.6L206.5 893.7L207.2 894.4L207.9 895.1L208.6 894.9L209.3 892.7L209.9 891.2L210.6 892.0L211.4 893.6L212.1 894.3L212.8 894.9L213.6 895.3L214.4 895.7L215.2 894.6L216.0 892.6L216.8 891.7L217.6 893.7L218.5 894.9L219.4 894.3L220.1 893.4L220.8 893.5L221.5 893.3L222.2 892.2L222.9 892.3L223.6 894.5L224.3 896.0L225.2 894.3L226.1 892.2L227.0 893.2L227.9 894.7L228.7 894.7L229.4 893.9L230.1 893.2L230.8 893.1L231.4 893.3L232.1 893.3L232.8 893.6L233.5 894.1L234.2 895.4L235.0 895.3L235.7 893.7L236.4 892.6L237.3 893.7L238.3 895.4L239.1 894.8L239.9 893.3L240.7 892.5L241.4 893.1L242.1 894.4L242.8 895.1L243.4 894.7L244.1 893.5L244.7 892.8L245.5 893.4L246.4 894.3L247.2 894.3L248.0 894.1L248.7 894.1L249.3 894.1L250.0 893.9L250.7 893.4L251.5 893.1L252.3 894.1L253.2 894.8L253.9 894.8L254.6 894.1L255.3 893.4L256.1 893.2L256.8 893.6L257.5 894.3L258.3 894.2L259.0 894.1L259.9 894.0L260.8 894.0L261.6 894.0L262.4 893.9L263.1 894.3L263.9 894.1L264.6 893.6L265.3 893.7L266.0 893.9L266.7 893.9L267.4 893.9L268.2 894.0L268.9 894.3L269.7 894.3L270.5 893.7L271.4 893.4L272.2 893.7L272.9 894.1L273.6 894.4L274.3 894.2L275.1 894.0L275.8 893.8L276.6 893.7L277.3 893.7L278.0 893.8L278.6 893.9L279.3 893.9L280.0 894.0L280.7 894.0L281.4 893.7L282.3 893.5L283.1 893.8L283.9 894.3L284.7 894.2L285.6 894.1L286.4 894.0L287.3 893.7L288.0 893.6L288.8 893.8L289.5 894.1L290.3 894.2L291.0 894.1L291.7 893.9L292.5 894.0L293.2 894.0L294.0 893.8L294.9 893.8L295.7 894.1L296.3 894.2L296.9 893.9L297.6 893.6L298.4 893.6L299.3 894.0L300.2 894.3L300.9 894.1L301.6 893.9L302.3 893.7L303.0 893.8L304.0 894.0L304.9 894.2L305.6 894.0L306.3 893.8L307.0 893.8L307.8 893.9L308.6 894.0L309.4 893.9" stroke="#050505" stroke-width="1.3" fill="none" stroke-linejoin="round"/>
<path clip-path="url(#c03)" d="M42.4 892.2L43.0 892.4L43.7 892.9L44.4 893.6L45.1 894.1L45.8 894.3L46.6 893.7L47.5 892.6L48.4 892.0L49.1 892.4L49.8 893.5L50.6 894.6L51.3 895.1L52.1 893.8L52.9 891.2L53.7 889.9L54.4 891.0L55.2 893.8L56.0 896.6L56.7 897.8L57.5 896.7L58.2 894.1L58.9 891.5L59.7 890.4L60.3 891.3L61.0 893.5L61.7 895.7L62.3 896.6L63.0 895.8L63.7 893.8L64.3 891.8L65.0 891.0L65.7 889.8L66.3 886.8L67.0 883.9L67.7 882.6L68.4 891.8L69.2 910.1L69.9 919.2L70.6 910.3L71.3 888.8L72.0 867.4L72.7 858.5L73.5 875.5L74.3 909.6L75.1 926.7L75.8 919.4L76.5 901.9L77.1 884.4L77.8 877.1L78.7 882.3L79.5 892.6L80.3 897.8L81.2 895.3L82.0 889.4L82.8 883.5L83.7 881.1L84.3 886.6L85.0 900.1L85.7 913.6L86.3 919.2L87.2 905.5L88.0 878.1L88.9 864.4L89.7 872.2L90.5 891.2L91.4 910.2L92.2 918.1L92.9 911.8L93.7 896.5L94.4 881.2L95.1 874.8L95.8 879.0L96.5 889.1L97.1 899.2L97.8 903.4L98.7 894.7L99.5 886.0L100.4 889.5L101.2 896.5L102.1 900.0L102.9 896.6L103.7 893.2L104.5 896.6L105.3 903.2L106.1 906.6L106.9 898.2L107.8 881.3L108.6 872.9L109.3 879.0L110.1 893.8L110.8 908.6L111.5 914.7L112.4 904.3L113.2 883.6L114.1 873.3L114.8 878.7L115.5 891.7L116.2 904.8L116.9 910.2L117.7 901.7L118.5 884.8L119.3 876.3L120.1 884.4L121.0 900.4L121.8 908.5L122.7 901.2L123.5 886.5L124.3 879.1L125.1 885.8L125.9 899.0L126.7 905.7L127.5 901.0L128.3 891.6L129.0 886.9L129.7 888.6L130.3 892.6L131.0 896.7L131.7 898.3L132.3 896.6L133.0 892.4L133.7 888.2L134.3 886.5L135.0 888.5L135.7 893.4L136.3 898.3L137.0 900.4L137.8 898.7L138.5 894.5L139.3 890.4L140.1 888.7L140.8 889.9L141.5 892.7L142.3 895.5L143.0 896.6L143.7 896.6L144.4 896.6L145.1 896.7L145.8 896.7L146.5 896.7L147.1 896.7L147.8 894.7L148.4 890.7L149.1 888.7L149.7 890.0L150.4 893.2L151.1 896.3L151.8 897.6L152.6 896.3L153.5 893.3L154.3 890.2L155.1 888.9L155.9 890.9L156.6 895.0L157.3 897.1L158.0 895.3L158.6 891.7L159.3 890.0L160.1 891.1L160.8 893.9L161.6 896.7L162.4 897.8L163.1 895.8L163.7 891.6L164.4 889.5L165.2 891.4L166.0 895.4L166.7 897.3L167.5 896.4L168.3 894.0L169.1 891.7L169.9 890.7L170.8 893.1L171.7 895.4L172.3 894.7L173.0 893.1L173.6 891.4L174.3 890.7L175.2 893.6L176.0 896.5L176.7 895.7L177.4 893.7L178.1 891.7L178.8 890.9L179.6 893.3L180.5 895.7L181.1 895.1L181.8 893.6L182.5 892.1L183.1 891.5L184.1 893.2L185.0 895.0L185.8 892.7L186.7 890.4L187.4 891.2L188.1 893.3L188.9 895.3L189.6 896.1L190.3 894.8L191.1 892.2L191.8 891.0L192.6 893.7L193.5 896.4L194.3 895.1L195.2 892.6L196.0 891.3L197.0 893.3L197.9 895.3L198.7 894.1L199.5 891.6L200.2 890.4L201.1 893.3L202.0 896.2L202.7 895.0L203.4 892.7L204.1 891.5L204.8 892.0L205.4 893.2L206.1 894.4L206.8 894.9L207.5 894.5L208.2 893.5L208.9 892.2L209.5 891.1L210.2 890.7L211.0 891.4L211.7 893.1L212.4 894.8L213.2 895.5L214.0 894.8L214.8 893.1L215.6 891.4L216.4 890.7L217.2 891.7L218.1 893.7L219.0 894.7L219.7 894.1L220.4 892.7L221.1 891.3L221.8 890.7L222.5 891.9L223.2 894.2L223.9 895.3L224.8 893.2L225.7 891.1L226.6 892.1L227.5 894.0L228.3 895.0L229.0 894.5L229.7 893.3L230.4 892.1L231.0 891.6L231.7 892.1L232.4 893.3L233.1 894.4L233.8 894.9L234.6 894.0L235.3 892.3L236.0 891.4L236.9 893.1L237.9 894.9L238.7 894.2L239.5 893.0L240.3 892.3L241.0 892.9L241.7 893.9L242.4 894.5L243.0 893.8L243.7 892.6L244.3 892.0L245.1 892.4L246.0 893.2L246.8 894.1L247.6 894.4L248.3 894.1L248.9 893.4L249.6 892.6L250.3 892.3L251.1 892.8L251.9 893.7L252.8 894.2L253.5 894.0L254.2 893.4L254.9 892.8L255.7 892.6L256.4 892.8L257.1 893.3L257.9 893.7L258.6 893.9L259.5 893.4L260.4 892.8L261.2 893.0L262.0 893.5L262.7 893.7L263.5 893.6L264.2 893.2L264.9 892.9L265.6 892.7L266.3 892.9L267.0 893.3L267.8 893.7L268.5 893.8L269.3 893.7L270.1 893.3L271.0 892.9L271.8 892.8L272.5 893.0L273.2 893.6L273.9 893.8L274.7 893.6L275.4 893.0L276.2 892.8L276.9 893.0L277.6 893.4L278.2 893.6L278.9 893.5L279.6 893.2L280.3 892.9L281.0 892.8L281.9 892.9L282.7 893.2L283.5 893.6L284.3 893.7L285.2 893.5L286.0 893.1L286.9 892.9L287.6 893.0L288.4 893.2L289.1 893.5L289.9 893.6L290.6 893.5L291.3 893.3L292.1 893.1L292.8 893.0L293.6 893.1L294.5 893.4L295.3 893.5L295.9 893.3L296.5 893.0L297.2 892.9L298.0 893.0L298.9 893.4L299.8 893.5L300.5 893.5L301.2 893.3L301.9 893.1L302.6 893.0L303.6 893.3L304.5 893.5L305.2 893.4L305.9 893.2L306.6 893.1L307.4 893.1L308.2 893.2L309.0 893.2" stroke="#fa0000" stroke-width="1.4" fill="none" stroke-linejoin="round"/>
<rect x="42.35" y="791.65" width="266.65" height="203.2" fill="none" stroke="#262626" stroke-width="1.2"/>
<path d="M42.35 983.56h-4.2M42.35 960.98h-4.2M42.35 938.41h-4.2M42.35 915.83h-4.2M42.35 893.25h-4.2M42.35 870.67h-4.2M42.35 848.09h-4.2M42.35 825.52h-4.2M42.35 802.94h-4.2M42.35 994.85h-2.4M42.35 972.27h-2.4M42.35 949.69h-2.4M42.35 927.12h-2.4M42.35 904.54h-2.4M42.35 881.96h-2.4M42.35 859.38h-2.4M42.35 836.81h-2.4M42.35 814.23h-2.4M42.35 791.65h-2.4M42.35 994.85v3.5M109.01 994.85v3.5M175.67 994.85v3.5M242.34 994.85v3.5M309 994.85v3.5M75.68 994.85v2.2M142.34 994.85v2.2M209.01 994.85v2.2M275.67 994.85v2.2" stroke="#262626" stroke-width="1.2" fill="none"/>
<g class="tl" text-anchor="end">
<text x="35.55" y="807.64">0.8</text>
<text x="35.55" y="830.22">0.6</text>
<text x="35.55" y="852.79">0.4</text>
<text x="35.55" y="875.37">0.2</text>
<text x="35.55" y="897.95">0.0</text>
<text x="35.55" y="920.53">-0.2</text>
<text x="35.55" y="943.11">-0.4</text>
<text x="35.55" y="965.68">-0.6</text>
<text x="35.55" y="988.26">-0.8</text>
</g>
<g class="tl" text-anchor="middle">
<text x="42.35" y="1012.45">0</text>
<text x="109.01" y="1012.45">5</text>
<text x="175.67" y="1012.45">10</text>
<text x="242.34" y="1012.45">15</text>
<text x="309" y="1012.45">20</text>
</g>
<text class="at" text-anchor="middle" x="175.98" y="1034.65">Time (sec)</text>
<text class="at" text-anchor="middle" transform="translate(8.95 892.75) rotate(-90)">Roof acceleration (g)</text>
<path d="M194.35 803.35h31.6" stroke="#1a1a1a" stroke-width="1.4"/>
<path d="M194.35 820.55h31.6" stroke="#fa0000" stroke-width="1.4"/>
<text class="lg" x="229.25" y="808.05">Non-Isolated</text>
<text class="lg" x="229.25" y="825.05">Isolated</text>
<text class="nm" text-anchor="end" x="307.2" y="989.55">Ramageranch</text>
</g>
</svg>
</body>
</html>
